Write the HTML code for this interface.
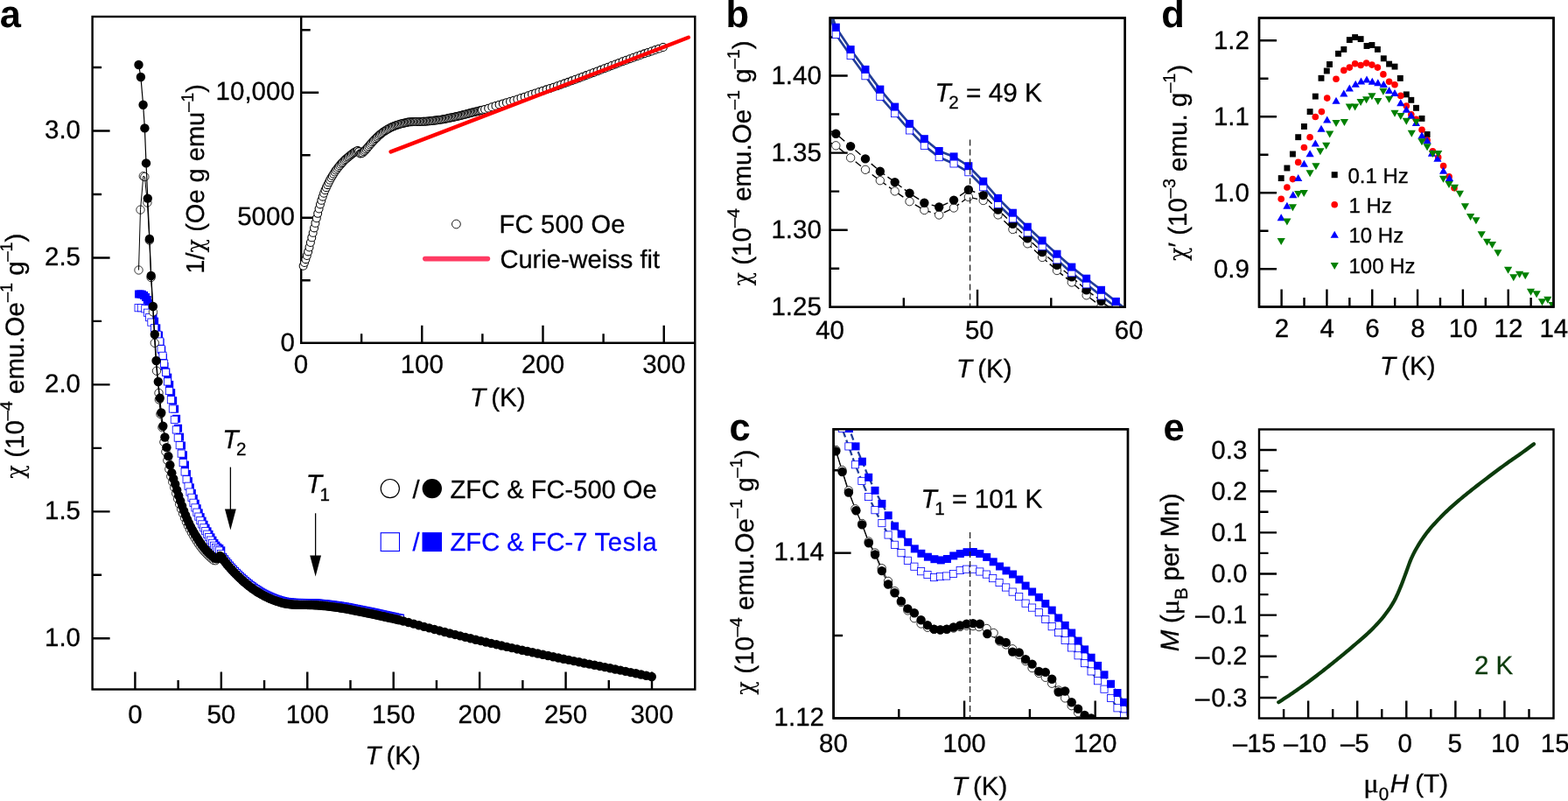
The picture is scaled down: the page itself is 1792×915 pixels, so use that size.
<!DOCTYPE html>
<html lang="en"><head><meta charset="utf-8"><title>Magnetic susceptibility figure</title>
<style>
html,body{margin:0;padding:0;background:#fff;}
body{width:1792px;height:915px;overflow:hidden;}
svg{display:block;font-family:'Liberation Sans', sans-serif;}
text{font-family:"Liberation Sans",sans-serif;stroke:#000;stroke-width:0.3px;text-rendering:geometricPrecision;}
text.pl{stroke:none;}
</style></head><body>
<svg width="1792" height="915" viewBox="0 0 1792 915">
<defs><clipPath id="clipb"><rect x="948.7" y="20.5" width="337.0" height="330.3"/></clipPath><clipPath id="clipc"><rect x="952.6" y="490.3" width="336.4" height="330.09999999999997"/></clipPath><clipPath id="clipd"><rect x="1439.0" y="20.5" width="336.5" height="330.0"/></clipPath></defs>
<rect width="1792" height="915" fill="#fff"/>
<text class="pl" x="-0.3" y="31.2" font-size="43.5" font-weight="bold">a</text><text class="pl" x="829.5" y="31.2" font-size="43.5" font-weight="bold">b</text><text class="pl" x="833.5" y="503.2" font-size="43.5" font-weight="bold">c</text><text class="pl" x="1327.2" y="31.2" font-size="43.5" font-weight="bold">d</text><text class="pl" x="1329.5" y="503.2" font-size="43.5" font-weight="bold">e</text><g id="panel-a"><rect x="105.6" y="19" width="688.7" height="768.5" fill="none" stroke="#000" stroke-width="2.4"/><path d="M154.4 787.5V767.5M252.83 787.5V767.5M351.27 787.5V767.5M449.71 787.5V767.5M548.14 787.5V767.5M646.57 787.5V767.5M745.01 787.5V767.5" stroke="#000" stroke-width="2.4" fill="none"/><path d="M203.62 787.5V777M302.05 787.5V777M400.49 787.5V777M498.92 787.5V777M597.36 787.5V777M695.79 787.5V777" stroke="#000" stroke-width="2.4" fill="none"/><path d="M105.6 729.3H125.6M105.6 584.35H125.6M105.6 439.4H125.6M105.6 294.45H125.6M105.6 149.5H125.6" stroke="#000" stroke-width="2.4" fill="none"/><path d="M105.6 656.82H116.1M105.6 511.88H116.1M105.6 366.92H116.1M105.6 221.98H116.1M105.6 77.02H116.1" stroke="#000" stroke-width="2.4" fill="none"/><g fill="#0000ff"><rect x="154" y="331.5" width="9" height="9"/><rect x="156" y="331.5" width="9" height="9"/><rect x="158" y="331.8" width="9" height="9"/><rect x="160" y="333" width="9" height="9"/><rect x="162" y="335" width="9" height="9"/><rect x="163.8" y="338" width="9" height="9"/><rect x="165.5" y="342" width="9" height="9"/><rect x="167.3" y="346.5" width="9" height="9"/><rect x="169" y="352" width="9" height="9"/><rect x="170.5" y="357.5" width="9" height="9"/><rect x="172.1" y="362.6" width="9" height="9"/><rect x="174.3" y="370.3" width="9" height="9"/><rect x="177" y="378.5" width="9" height="9"/><rect x="178.6" y="386.7" width="9" height="9"/><rect x="180.3" y="395.4" width="9" height="9"/><rect x="181.9" y="404.2" width="9" height="9"/><rect x="183.5" y="414" width="9" height="9"/><rect x="185.3" y="420.49" width="9" height="9"/><rect x="187.27" y="426.64" width="9" height="9"/><rect x="189.24" y="434.91" width="9" height="9"/><rect x="191.21" y="444.13" width="9" height="9"/><rect x="193.17" y="453.18" width="9" height="9"/><rect x="195.14" y="462.66" width="9" height="9"/><rect x="197.11" y="473.8" width="9" height="9"/><rect x="199.08" y="484.71" width="9" height="9"/><rect x="201.05" y="494.63" width="9" height="9"/><rect x="203.02" y="504.5" width="9" height="9"/><rect x="204.99" y="515.23" width="9" height="9"/><rect x="206.96" y="526.59" width="9" height="9"/><rect x="208.92" y="536.92" width="9" height="9"/><rect x="210.89" y="545.16" width="9" height="9"/><rect x="212.86" y="552.34" width="9" height="9"/><rect x="214.83" y="558.82" width="9" height="9"/><rect x="216.8" y="564.89" width="9" height="9"/><rect x="218.77" y="570.72" width="9" height="9"/><rect x="220.74" y="576.22" width="9" height="9"/><rect x="222.71" y="581.37" width="9" height="9"/><rect x="224.67" y="586.15" width="9" height="9"/><rect x="226.64" y="590.57" width="9" height="9"/><rect x="228.61" y="594.72" width="9" height="9"/><rect x="230.58" y="598.62" width="9" height="9"/><rect x="232.55" y="602.32" width="9" height="9"/><rect x="234.52" y="605.84" width="9" height="9"/><rect x="236.49" y="609.33" width="9" height="9"/><rect x="238.45" y="612.72" width="9" height="9"/><rect x="240.42" y="615.87" width="9" height="9"/><rect x="242.39" y="618.6" width="9" height="9"/><rect x="244.36" y="620.68" width="9" height="9"/><rect x="246.33" y="622" width="9" height="9"/><rect x="248.3" y="624.32" width="9" height="9"/><rect x="250.27" y="631.85" width="9" height="9"/><rect x="252.24" y="634.37" width="9" height="9"/><rect x="254.2" y="636.89" width="9" height="9"/><rect x="256.17" y="639.28" width="9" height="9"/><rect x="258.14" y="641.55" width="9" height="9"/><rect x="260.11" y="643.73" width="9" height="9"/><rect x="262.08" y="645.84" width="9" height="9"/><rect x="264.05" y="647.88" width="9" height="9"/><rect x="266.02" y="649.86" width="9" height="9"/><rect x="267.99" y="651.78" width="9" height="9"/><rect x="269.95" y="653.66" width="9" height="9"/><rect x="271.92" y="655.5" width="9" height="9"/><rect x="273.89" y="657.29" width="9" height="9"/><rect x="275.86" y="659.01" width="9" height="9"/><rect x="277.83" y="660.66" width="9" height="9"/><rect x="279.8" y="662.23" width="9" height="9"/><rect x="281.77" y="663.74" width="9" height="9"/><rect x="283.74" y="665.2" width="9" height="9"/><rect x="285.7" y="666.61" width="9" height="9"/><rect x="287.67" y="667.95" width="9" height="9"/><rect x="289.64" y="669.21" width="9" height="9"/><rect x="291.61" y="670.42" width="9" height="9"/><rect x="293.58" y="671.58" width="9" height="9"/><rect x="295.55" y="672.68" width="9" height="9"/><rect x="297.52" y="673.74" width="9" height="9"/><rect x="299.48" y="674.73" width="9" height="9"/><rect x="301.45" y="675.67" width="9" height="9"/><rect x="303.42" y="676.57" width="9" height="9"/><rect x="305.39" y="677.43" width="9" height="9"/><rect x="307.36" y="678.25" width="9" height="9"/><rect x="309.33" y="679.01" width="9" height="9"/><rect x="311.3" y="679.71" width="9" height="9"/><rect x="313.27" y="680.34" width="9" height="9"/><rect x="315.23" y="680.94" width="9" height="9"/><rect x="317.2" y="681.51" width="9" height="9"/><rect x="319.17" y="682.04" width="9" height="9"/><rect x="321.14" y="682.48" width="9" height="9"/><rect x="323.11" y="682.83" width="9" height="9"/><rect x="325.08" y="683.09" width="9" height="9"/><rect x="327.05" y="683.33" width="9" height="9"/><rect x="329.02" y="683.54" width="9" height="9"/><rect x="330.98" y="683.72" width="9" height="9"/><rect x="332.95" y="683.84" width="9" height="9"/><rect x="334.92" y="683.9" width="9" height="9"/><rect x="336.89" y="683.93" width="9" height="9"/><rect x="338.86" y="683.94" width="9" height="9"/><rect x="340.83" y="683.96" width="9" height="9"/><rect x="342.8" y="683.97" width="9" height="9"/><rect x="344.76" y="683.99" width="9" height="9"/><rect x="346.73" y="684.01" width="9" height="9"/><rect x="348.7" y="684.06" width="9" height="9"/><rect x="350.67" y="684.12" width="9" height="9"/><rect x="352.64" y="684.19" width="9" height="9"/><rect x="354.61" y="684.28" width="9" height="9"/><rect x="356.58" y="684.37" width="9" height="9"/><rect x="358.55" y="684.48" width="9" height="9"/><rect x="360.51" y="684.63" width="9" height="9"/><rect x="362.48" y="684.8" width="9" height="9"/><rect x="364.45" y="685" width="9" height="9"/><rect x="366.42" y="685.2" width="9" height="9"/><rect x="368.39" y="685.41" width="9" height="9"/><rect x="370.36" y="685.63" width="9" height="9"/><rect x="372.33" y="685.86" width="9" height="9"/><rect x="374.3" y="686.11" width="9" height="9"/><rect x="376.26" y="686.37" width="9" height="9"/><rect x="378.23" y="686.64" width="9" height="9"/><rect x="380.2" y="686.91" width="9" height="9"/><rect x="382.17" y="687.19" width="9" height="9"/><rect x="384.14" y="687.47" width="9" height="9"/><rect x="386.11" y="687.77" width="9" height="9"/><rect x="388.08" y="688.08" width="9" height="9"/><rect x="390.04" y="688.41" width="9" height="9"/><rect x="392.01" y="688.75" width="9" height="9"/><rect x="393.98" y="689.12" width="9" height="9"/><rect x="395.95" y="689.51" width="9" height="9"/><rect x="397.92" y="689.91" width="9" height="9"/><rect x="399.89" y="690.32" width="9" height="9"/><rect x="401.86" y="690.71" width="9" height="9"/><rect x="403.83" y="691.1" width="9" height="9"/><rect x="405.79" y="691.49" width="9" height="9"/><rect x="407.76" y="691.88" width="9" height="9"/><rect x="409.73" y="692.27" width="9" height="9"/><rect x="411.7" y="692.66" width="9" height="9"/><rect x="413.67" y="693.05" width="9" height="9"/><rect x="415.64" y="693.45" width="9" height="9"/><rect x="417.61" y="693.85" width="9" height="9"/><rect x="419.58" y="694.25" width="9" height="9"/><rect x="421.54" y="694.66" width="9" height="9"/><rect x="423.51" y="695.07" width="9" height="9"/><rect x="425.48" y="695.5" width="9" height="9"/><rect x="427.45" y="695.94" width="9" height="9"/><rect x="429.42" y="696.39" width="9" height="9"/><rect x="431.39" y="696.84" width="9" height="9"/><rect x="433.36" y="697.29" width="9" height="9"/><rect x="435.32" y="697.73" width="9" height="9"/><rect x="437.29" y="698.15" width="9" height="9"/><rect x="439.26" y="698.56" width="9" height="9"/><rect x="441.23" y="698.97" width="9" height="9"/><rect x="443.2" y="699.39" width="9" height="9"/><rect x="445.17" y="699.82" width="9" height="9"/><rect x="447.14" y="700.28" width="9" height="9"/><rect x="449.11" y="700.76" width="9" height="9"/><rect x="451.07" y="701.25" width="9" height="9"/><rect x="453.04" y="701.51" width="9" height="9"/></g><g fill="#fff" stroke="#0000ff" stroke-width="0.8"><rect x="154" y="347.6" width="8.2" height="8.2"/><rect x="157.3" y="347.6" width="8.2" height="8.2"/><rect x="161.7" y="348.7" width="8.2" height="8.2"/><rect x="164.4" y="353.1" width="8.2" height="8.2"/><rect x="166.6" y="358.5" width="8.2" height="8.2"/><rect x="168.8" y="364" width="8.2" height="8.2"/><rect x="172.6" y="370.5" width="8.2" height="8.2"/><rect x="175.9" y="378.2" width="8.2" height="8.2"/><rect x="178.6" y="385.9" width="8.2" height="8.2"/><rect x="180" y="394.6" width="8.2" height="8.2"/><rect x="181.9" y="402.2" width="8.2" height="8.2"/><rect x="183.5" y="411" width="8.2" height="8.2"/><rect x="185.4" y="421.22" width="8.2" height="8.2"/><rect x="187.37" y="431.83" width="8.2" height="8.2"/><rect x="189.34" y="442.43" width="8.2" height="8.2"/><rect x="191.31" y="452.65" width="8.2" height="8.2"/><rect x="193.27" y="462.93" width="8.2" height="8.2"/><rect x="195.24" y="475.24" width="8.2" height="8.2"/><rect x="197.21" y="486.83" width="8.2" height="8.2"/><rect x="199.18" y="495.99" width="8.2" height="8.2"/><rect x="201.15" y="504.57" width="8.2" height="8.2"/><rect x="203.12" y="514" width="8.2" height="8.2"/><rect x="205.09" y="524.55" width="8.2" height="8.2"/><rect x="207.06" y="534.88" width="8.2" height="8.2"/><rect x="209.02" y="543.64" width="8.2" height="8.2"/><rect x="210.99" y="551.15" width="8.2" height="8.2"/><rect x="212.96" y="557.95" width="8.2" height="8.2"/><rect x="214.93" y="564.24" width="8.2" height="8.2"/><rect x="216.9" y="570.18" width="8.2" height="8.2"/><rect x="218.87" y="575.8" width="8.2" height="8.2"/><rect x="220.84" y="581.08" width="8.2" height="8.2"/><rect x="222.81" y="586" width="8.2" height="8.2"/><rect x="224.77" y="590.54" width="8.2" height="8.2"/><rect x="226.74" y="594.79" width="8.2" height="8.2"/><rect x="228.71" y="598.77" width="8.2" height="8.2"/><rect x="230.68" y="602.53" width="8.2" height="8.2"/><rect x="232.65" y="606.11" width="8.2" height="8.2"/><rect x="234.62" y="609.57" width="8.2" height="8.2"/><rect x="236.59" y="612.99" width="8.2" height="8.2"/><rect x="238.55" y="616.23" width="8.2" height="8.2"/><rect x="240.52" y="619.14" width="8.2" height="8.2"/><rect x="242.49" y="621.59" width="8.2" height="8.2"/><rect x="244.46" y="623.26" width="8.2" height="8.2"/><rect x="246.43" y="624.89" width="8.2" height="8.2"/><rect x="248.4" y="628.59" width="8.2" height="8.2"/><rect x="250.37" y="632.35" width="8.2" height="8.2"/><rect x="252.34" y="635.1" width="8.2" height="8.2"/><rect x="254.3" y="637.61" width="8.2" height="8.2"/><rect x="256.27" y="640.02" width="8.2" height="8.2"/><rect x="258.24" y="642.31" width="8.2" height="8.2"/><rect x="260.21" y="644.5" width="8.2" height="8.2"/><rect x="262.18" y="646.62" width="8.2" height="8.2"/><rect x="264.15" y="648.67" width="8.2" height="8.2"/><rect x="266.12" y="650.66" width="8.2" height="8.2"/><rect x="268.09" y="652.59" width="8.2" height="8.2"/><rect x="270.05" y="654.48" width="8.2" height="8.2"/><rect x="272.02" y="656.32" width="8.2" height="8.2"/><rect x="273.99" y="658.12" width="8.2" height="8.2"/><rect x="275.96" y="659.85" width="8.2" height="8.2"/><rect x="277.93" y="661.51" width="8.2" height="8.2"/><rect x="279.9" y="663.09" width="8.2" height="8.2"/><rect x="281.87" y="664.62" width="8.2" height="8.2"/><rect x="283.84" y="666.09" width="8.2" height="8.2"/><rect x="285.8" y="667.5" width="8.2" height="8.2"/><rect x="287.77" y="668.85" width="8.2" height="8.2"/><rect x="289.74" y="670.13" width="8.2" height="8.2"/><rect x="291.71" y="671.34" width="8.2" height="8.2"/><rect x="293.68" y="672.5" width="8.2" height="8.2"/><rect x="295.65" y="673.62" width="8.2" height="8.2"/><rect x="297.62" y="674.68" width="8.2" height="8.2"/><rect x="299.58" y="675.69" width="8.2" height="8.2"/><rect x="301.55" y="676.63" width="8.2" height="8.2"/><rect x="303.52" y="677.53" width="8.2" height="8.2"/><rect x="305.49" y="678.4" width="8.2" height="8.2"/><rect x="307.46" y="679.23" width="8.2" height="8.2"/><rect x="309.43" y="680" width="8.2" height="8.2"/><rect x="311.4" y="680.71" width="8.2" height="8.2"/><rect x="313.37" y="681.35" width="8.2" height="8.2"/><rect x="315.33" y="681.95" width="8.2" height="8.2"/><rect x="317.3" y="682.53" width="8.2" height="8.2"/><rect x="319.27" y="683.06" width="8.2" height="8.2"/><rect x="321.24" y="683.52" width="8.2" height="8.2"/><rect x="323.21" y="683.89" width="8.2" height="8.2"/><rect x="325.18" y="684.15" width="8.2" height="8.2"/><rect x="327.15" y="684.4" width="8.2" height="8.2"/><rect x="329.12" y="684.61" width="8.2" height="8.2"/><rect x="331.08" y="684.79" width="8.2" height="8.2"/><rect x="333.05" y="684.93" width="8.2" height="8.2"/><rect x="335.02" y="685" width="8.2" height="8.2"/><rect x="336.99" y="685.02" width="8.2" height="8.2"/><rect x="338.96" y="685.04" width="8.2" height="8.2"/><rect x="340.93" y="685.05" width="8.2" height="8.2"/><rect x="342.9" y="685.07" width="8.2" height="8.2"/><rect x="344.86" y="685.08" width="8.2" height="8.2"/><rect x="346.83" y="685.11" width="8.2" height="8.2"/><rect x="348.8" y="685.15" width="8.2" height="8.2"/><rect x="350.77" y="685.21" width="8.2" height="8.2"/><rect x="352.74" y="685.28" width="8.2" height="8.2"/><rect x="354.71" y="685.37" width="8.2" height="8.2"/><rect x="356.68" y="685.46" width="8.2" height="8.2"/><rect x="358.65" y="685.57" width="8.2" height="8.2"/><rect x="360.61" y="685.71" width="8.2" height="8.2"/><rect x="362.58" y="685.88" width="8.2" height="8.2"/><rect x="364.55" y="686.07" width="8.2" height="8.2"/><rect x="366.52" y="686.27" width="8.2" height="8.2"/><rect x="368.49" y="686.48" width="8.2" height="8.2"/><rect x="370.46" y="686.69" width="8.2" height="8.2"/><rect x="372.43" y="686.92" width="8.2" height="8.2"/><rect x="374.4" y="687.17" width="8.2" height="8.2"/><rect x="376.36" y="687.43" width="8.2" height="8.2"/><rect x="378.33" y="687.7" width="8.2" height="8.2"/><rect x="380.3" y="687.97" width="8.2" height="8.2"/><rect x="382.27" y="688.25" width="8.2" height="8.2"/><rect x="384.24" y="688.53" width="8.2" height="8.2"/><rect x="386.21" y="688.83" width="8.2" height="8.2"/><rect x="388.18" y="689.13" width="8.2" height="8.2"/><rect x="390.14" y="689.45" width="8.2" height="8.2"/><rect x="392.11" y="689.8" width="8.2" height="8.2"/><rect x="394.08" y="690.16" width="8.2" height="8.2"/><rect x="396.05" y="690.55" width="8.2" height="8.2"/><rect x="398.02" y="690.95" width="8.2" height="8.2"/><rect x="399.99" y="691.36" width="8.2" height="8.2"/><rect x="401.96" y="691.75" width="8.2" height="8.2"/><rect x="403.93" y="692.14" width="8.2" height="8.2"/><rect x="405.89" y="692.53" width="8.2" height="8.2"/><rect x="407.86" y="692.92" width="8.2" height="8.2"/><rect x="409.83" y="693.31" width="8.2" height="8.2"/><rect x="411.8" y="693.7" width="8.2" height="8.2"/><rect x="413.77" y="694.09" width="8.2" height="8.2"/><rect x="415.74" y="694.49" width="8.2" height="8.2"/><rect x="417.71" y="694.89" width="8.2" height="8.2"/><rect x="419.68" y="695.29" width="8.2" height="8.2"/><rect x="421.64" y="695.7" width="8.2" height="8.2"/><rect x="423.61" y="696.11" width="8.2" height="8.2"/><rect x="425.58" y="696.54" width="8.2" height="8.2"/><rect x="427.55" y="696.97" width="8.2" height="8.2"/><rect x="429.52" y="697.42" width="8.2" height="8.2"/><rect x="431.49" y="697.87" width="8.2" height="8.2"/><rect x="433.46" y="698.32" width="8.2" height="8.2"/><rect x="435.42" y="698.76" width="8.2" height="8.2"/><rect x="437.39" y="699.19" width="8.2" height="8.2"/><rect x="439.36" y="699.6" width="8.2" height="8.2"/><rect x="441.33" y="700.01" width="8.2" height="8.2"/><rect x="443.3" y="700.42" width="8.2" height="8.2"/><rect x="445.27" y="700.86" width="8.2" height="8.2"/><rect x="447.24" y="701.31" width="8.2" height="8.2"/><rect x="449.21" y="701.79" width="8.2" height="8.2"/><rect x="451.17" y="702.27" width="8.2" height="8.2"/><rect x="453.14" y="702.76" width="8.2" height="8.2"/></g><g fill="#fff" stroke="#000" stroke-width="0.8"><circle cx="158.5" cy="308.5" r="4.7"/><circle cx="160.5" cy="239.6" r="4.7"/><circle cx="163.8" cy="201.2" r="4.7"/><circle cx="165.4" cy="202" r="4.7"/><circle cx="168.4" cy="231.5" r="4.7"/><circle cx="170.8" cy="274.5" r="4.7"/><circle cx="172.6" cy="317" r="4.7"/><circle cx="174.9" cy="356.4" r="4.7"/><circle cx="176.8" cy="391.8" r="4.7"/><circle cx="179" cy="423.7" r="4.7"/><circle cx="181.5" cy="448.9" r="4.7"/><circle cx="181.8" cy="456.5" r="4.7"/><circle cx="183.4" cy="473" r="4.7"/><circle cx="185.4" cy="488.3" r="4.7"/><circle cx="187.4" cy="504.96" r="4.7"/><circle cx="189.37" cy="516.11" r="4.7"/><circle cx="191.34" cy="525.9" r="4.7"/><circle cx="193.31" cy="535.84" r="4.7"/><circle cx="195.27" cy="544.24" r="4.7"/><circle cx="197.24" cy="550.53" r="4.7"/><circle cx="199.21" cy="556.8" r="4.7"/><circle cx="201.18" cy="563.52" r="4.7"/><circle cx="203.15" cy="569.9" r="4.7"/><circle cx="205.12" cy="575.89" r="4.7"/><circle cx="207.09" cy="581.55" r="4.7"/><circle cx="209.06" cy="586.81" r="4.7"/><circle cx="211.02" cy="591.81" r="4.7"/><circle cx="212.99" cy="596.49" r="4.7"/><circle cx="214.96" cy="600.75" r="4.7"/><circle cx="216.93" cy="604.65" r="4.7"/><circle cx="218.9" cy="608.29" r="4.7"/><circle cx="220.87" cy="611.7" r="4.7"/><circle cx="222.84" cy="614.94" r="4.7"/><circle cx="224.81" cy="618.07" r="4.7"/><circle cx="226.77" cy="621.07" r="4.7"/><circle cx="228.74" cy="623.9" r="4.7"/><circle cx="230.71" cy="626.51" r="4.7"/><circle cx="232.68" cy="628.87" r="4.7"/><circle cx="234.65" cy="631.08" r="4.7"/><circle cx="236.62" cy="633.13" r="4.7"/><circle cx="238.59" cy="635.03" r="4.7"/><circle cx="240.55" cy="636.76" r="4.7"/><circle cx="242.52" cy="638.61" r="4.7"/><circle cx="244.49" cy="640.09" r="4.7"/><circle cx="246.46" cy="640.22" r="4.7"/></g><polyline points="158.5,308.5 160.5,239.6 163.8,201.2 165.4,202 168.4,231.5 170.8,274.5 172.6,317 174.9,356.4 176.8,391.8 179,423.7 181.5,448.9 181.8,456.5 183.4,473 185.4,488.3" fill="none" stroke="#000" stroke-width="1.0" /><polyline points="158.5,74 160.9,88 163.6,119.8 165.4,146.4 167,186.4 168.8,226.6 170.9,273 172.7,315 174.9,350 176.8,382 178.6,412 180.8,436 182.7,454.8 184.3,471.5 186.3,486.8 188.4,499.5" fill="none" stroke="#000" stroke-width="1.2" /><g fill="#000"><circle cx="158.5" cy="74" r="5.2"/><circle cx="160.9" cy="88" r="5.2"/><circle cx="163.6" cy="119.8" r="5.2"/><circle cx="165.4" cy="146.4" r="5.2"/><circle cx="167" cy="186.4" r="5.2"/><circle cx="168.8" cy="226.6" r="5.2"/><circle cx="170.9" cy="273" r="5.2"/><circle cx="172.7" cy="315" r="5.2"/><circle cx="174.9" cy="350" r="5.2"/><circle cx="176.8" cy="382" r="5.2"/><circle cx="178.6" cy="412" r="5.2"/><circle cx="180.8" cy="436" r="5.2"/><circle cx="182.7" cy="454.8" r="5.2"/><circle cx="184.3" cy="471.5" r="5.2"/><circle cx="186.3" cy="486.8" r="5.2"/><circle cx="188.4" cy="499.5" r="5.2"/><circle cx="190.4" cy="511.17" r="5.2"/><circle cx="192.37" cy="521.15" r="5.2"/><circle cx="194.34" cy="531.23" r="5.2"/><circle cx="196.31" cy="540.16" r="5.2"/><circle cx="198.27" cy="546.92" r="5.2"/><circle cx="200.24" cy="553" r="5.2"/><circle cx="202.21" cy="559.68" r="5.2"/><circle cx="204.18" cy="566.23" r="5.2"/><circle cx="206.15" cy="572.29" r="5.2"/><circle cx="208.12" cy="578.05" r="5.2"/><circle cx="210.09" cy="583.42" r="5.2"/><circle cx="212.06" cy="588.5" r="5.2"/><circle cx="214.02" cy="593.28" r="5.2"/><circle cx="215.99" cy="597.67" r="5.2"/><circle cx="217.96" cy="601.65" r="5.2"/><circle cx="219.93" cy="605.36" r="5.2"/><circle cx="221.9" cy="608.84" r="5.2"/><circle cx="223.87" cy="612.12" r="5.2"/><circle cx="225.84" cy="615.28" r="5.2"/><circle cx="227.81" cy="618.32" r="5.2"/><circle cx="229.77" cy="621.2" r="5.2"/><circle cx="231.74" cy="623.88" r="5.2"/><circle cx="233.71" cy="626.31" r="5.2"/><circle cx="235.68" cy="628.56" r="5.2"/><circle cx="237.65" cy="630.65" r="5.2"/><circle cx="239.62" cy="632.6" r="5.2"/><circle cx="241.59" cy="634.38" r="5.2"/><circle cx="243.55" cy="636.16" r="5.2"/><circle cx="245.52" cy="637.87" r="5.2"/><circle cx="247.49" cy="638.38" r="5.2"/><circle cx="249.46" cy="638.01" r="5.2"/><circle cx="251.43" cy="634.92" r="5.2"/><circle cx="253.4" cy="636.38" r="5.2"/><circle cx="255.37" cy="639.47" r="5.2"/><circle cx="257.34" cy="642.05" r="5.2"/><circle cx="259.3" cy="644.53" r="5.2"/><circle cx="261.27" cy="646.88" r="5.2"/><circle cx="263.24" cy="649.12" r="5.2"/><circle cx="265.21" cy="651.28" r="5.2"/><circle cx="267.18" cy="653.37" r="5.2"/><circle cx="269.15" cy="655.39" r="5.2"/><circle cx="271.12" cy="657.35" r="5.2"/><circle cx="273.09" cy="659.26" r="5.2"/><circle cx="275.05" cy="661.13" r="5.2"/><circle cx="277.02" cy="662.95" r="5.2"/><circle cx="278.99" cy="664.72" r="5.2"/><circle cx="280.96" cy="666.42" r="5.2"/><circle cx="282.93" cy="668.04" r="5.2"/><circle cx="284.9" cy="669.59" r="5.2"/><circle cx="286.87" cy="671.09" r="5.2"/><circle cx="288.84" cy="672.54" r="5.2"/><circle cx="290.8" cy="673.92" r="5.2"/><circle cx="292.77" cy="675.24" r="5.2"/><circle cx="294.74" cy="676.49" r="5.2"/><circle cx="296.71" cy="677.68" r="5.2"/><circle cx="298.68" cy="678.82" r="5.2"/><circle cx="300.65" cy="679.91" r="5.2"/><circle cx="302.62" cy="680.95" r="5.2"/><circle cx="304.58" cy="681.93" r="5.2"/><circle cx="306.55" cy="682.85" r="5.2"/><circle cx="308.52" cy="683.73" r="5.2"/><circle cx="310.49" cy="684.59" r="5.2"/><circle cx="312.46" cy="685.39" r="5.2"/><circle cx="314.43" cy="686.13" r="5.2"/><circle cx="316.4" cy="686.81" r="5.2"/><circle cx="318.37" cy="687.42" r="5.2"/><circle cx="320.33" cy="688.02" r="5.2"/><circle cx="322.3" cy="688.58" r="5.2"/><circle cx="324.27" cy="689.08" r="5.2"/><circle cx="326.24" cy="689.5" r="5.2"/><circle cx="328.21" cy="689.81" r="5.2"/><circle cx="330.18" cy="690.07" r="5.2"/><circle cx="332.15" cy="690.3" r="5.2"/><circle cx="334.12" cy="690.5" r="5.2"/><circle cx="336.08" cy="690.66" r="5.2"/><circle cx="338.05" cy="690.77" r="5.2"/><circle cx="340.02" cy="690.81" r="5.2"/><circle cx="341.99" cy="690.83" r="5.2"/><circle cx="343.96" cy="690.85" r="5.2"/><circle cx="345.93" cy="690.86" r="5.2"/><circle cx="347.9" cy="690.87" r="5.2"/><circle cx="349.86" cy="690.89" r="5.2"/><circle cx="351.83" cy="690.93" r="5.2"/><circle cx="353.8" cy="690.98" r="5.2"/><circle cx="355.77" cy="691.04" r="5.2"/><circle cx="357.74" cy="691.12" r="5.2"/><circle cx="359.71" cy="691.21" r="5.2"/><circle cx="361.68" cy="691.3" r="5.2"/><circle cx="363.65" cy="691.43" r="5.2"/><circle cx="365.61" cy="691.58" r="5.2"/><circle cx="367.58" cy="691.76" r="5.2"/><circle cx="369.55" cy="691.96" r="5.2"/><circle cx="371.52" cy="692.17" r="5.2"/><circle cx="373.49" cy="692.37" r="5.2"/><circle cx="375.46" cy="692.6" r="5.2"/><circle cx="377.43" cy="692.84" r="5.2"/><circle cx="379.4" cy="693.09" r="5.2"/><circle cx="381.36" cy="693.35" r="5.2"/><circle cx="383.33" cy="693.62" r="5.2"/><circle cx="385.3" cy="693.89" r="5.2"/><circle cx="387.27" cy="694.17" r="5.2"/><circle cx="389.24" cy="694.46" r="5.2"/><circle cx="391.21" cy="694.76" r="5.2"/><circle cx="393.18" cy="695.08" r="5.2"/><circle cx="395.14" cy="695.41" r="5.2"/><circle cx="397.11" cy="695.76" r="5.2"/><circle cx="399.08" cy="696.14" r="5.2"/><circle cx="401.05" cy="696.53" r="5.2"/><circle cx="403.02" cy="696.94" r="5.2"/><circle cx="404.99" cy="697.34" r="5.2"/><circle cx="406.96" cy="697.73" r="5.2"/><circle cx="408.93" cy="698.12" r="5.2"/><circle cx="410.89" cy="698.51" r="5.2"/><circle cx="412.86" cy="698.89" r="5.2"/><circle cx="414.83" cy="699.29" r="5.2"/><circle cx="416.8" cy="699.68" r="5.2"/><circle cx="418.77" cy="700.08" r="5.2"/><circle cx="420.74" cy="700.47" r="5.2"/><circle cx="422.71" cy="700.87" r="5.2"/><circle cx="424.68" cy="701.28" r="5.2"/><circle cx="426.64" cy="701.68" r="5.2"/><circle cx="428.61" cy="702.1" r="5.2"/><circle cx="430.58" cy="702.53" r="5.2"/><circle cx="432.55" cy="702.98" r="5.2"/><circle cx="434.52" cy="703.43" r="5.2"/><circle cx="436.49" cy="703.88" r="5.2"/><circle cx="438.46" cy="704.32" r="5.2"/><circle cx="440.42" cy="704.76" r="5.2"/><circle cx="442.39" cy="705.18" r="5.2"/><circle cx="444.36" cy="705.59" r="5.2"/><circle cx="446.33" cy="706" r="5.2"/><circle cx="448.3" cy="706.42" r="5.2"/><circle cx="450.27" cy="706.86" r="5.2"/><circle cx="452.24" cy="707.33" r="5.2"/><circle cx="454.21" cy="707.81" r="5.2"/><circle cx="456.17" cy="708.3" r="5.2"/><circle cx="461" cy="709.53" r="5.2"/><circle cx="466.91" cy="711.07" r="5.2"/><circle cx="472.81" cy="712.64" r="5.2"/><circle cx="478.72" cy="714.24" r="5.2"/><circle cx="484.62" cy="715.83" r="5.2"/><circle cx="490.53" cy="717.4" r="5.2"/><circle cx="496.44" cy="718.93" r="5.2"/><circle cx="502.34" cy="720.44" r="5.2"/><circle cx="508.25" cy="721.95" r="5.2"/><circle cx="514.15" cy="723.45" r="5.2"/><circle cx="520.06" cy="724.94" r="5.2"/><circle cx="525.97" cy="726.41" r="5.2"/><circle cx="531.87" cy="727.86" r="5.2"/><circle cx="537.78" cy="729.3" r="5.2"/><circle cx="543.68" cy="730.72" r="5.2"/><circle cx="549.59" cy="732.11" r="5.2"/><circle cx="555.5" cy="733.49" r="5.2"/><circle cx="561.4" cy="734.85" r="5.2"/><circle cx="567.31" cy="736.19" r="5.2"/><circle cx="573.21" cy="737.52" r="5.2"/><circle cx="579.12" cy="738.84" r="5.2"/><circle cx="585.03" cy="740.14" r="5.2"/><circle cx="590.93" cy="741.44" r="5.2"/><circle cx="596.84" cy="742.73" r="5.2"/><circle cx="602.74" cy="744.01" r="5.2"/><circle cx="608.65" cy="745.28" r="5.2"/><circle cx="614.56" cy="746.54" r="5.2"/><circle cx="620.46" cy="747.79" r="5.2"/><circle cx="626.37" cy="749.03" r="5.2"/><circle cx="632.27" cy="750.26" r="5.2"/><circle cx="638.18" cy="751.48" r="5.2"/><circle cx="644.09" cy="752.7" r="5.2"/><circle cx="649.99" cy="753.91" r="5.2"/><circle cx="655.9" cy="755.1" r="5.2"/><circle cx="661.8" cy="756.28" r="5.2"/><circle cx="667.71" cy="757.45" r="5.2"/><circle cx="673.62" cy="758.61" r="5.2"/><circle cx="679.52" cy="759.77" r="5.2"/><circle cx="685.43" cy="760.94" r="5.2"/><circle cx="691.33" cy="762.11" r="5.2"/><circle cx="697.24" cy="763.29" r="5.2"/><circle cx="703.15" cy="764.48" r="5.2"/><circle cx="709.05" cy="765.67" r="5.2"/><circle cx="714.96" cy="766.87" r="5.2"/><circle cx="720.86" cy="768.08" r="5.2"/><circle cx="726.77" cy="769.29" r="5.2"/><circle cx="732.68" cy="770.5" r="5.2"/><circle cx="738.58" cy="771.71" r="5.2"/><circle cx="744.8" cy="773" r="5.2"/></g><text font-size="29.5" text-anchor="end" transform="translate(92 738.2) scale(1 1.0)" >1.0</text><text font-size="29.5" text-anchor="end" transform="translate(92 593.25) scale(1 1.0)" >1.5</text><text font-size="29.5" text-anchor="end" transform="translate(92 448.3) scale(1 1.0)" >2.0</text><text font-size="29.5" text-anchor="end" transform="translate(92 303.35) scale(1 1.0)" >2.5</text><text font-size="29.5" text-anchor="end" transform="translate(92 158.4) scale(1 1.0)" >3.0</text><text font-size="29.5" text-anchor="middle" transform="translate(154.4 825.6) scale(1 1.0)" >0</text><text font-size="29.5" text-anchor="middle" transform="translate(252.83 825.6) scale(1 1.0)" >50</text><text font-size="29.5" text-anchor="middle" transform="translate(351.27 825.6) scale(1 1.0)" >100</text><text font-size="29.5" text-anchor="middle" transform="translate(449.71 825.6) scale(1 1.0)" >150</text><text font-size="29.5" text-anchor="middle" transform="translate(548.14 825.6) scale(1 1.0)" >200</text><text font-size="29.5" text-anchor="middle" transform="translate(646.57 825.6) scale(1 1.0)" >250</text><text font-size="29.5" text-anchor="middle" transform="translate(745.01 825.6) scale(1 1.0)" >300</text><text font-size="29.5" text-anchor="middle" transform="translate(449 873.4) scale(1 1.0)" ><tspan font-style="italic">T</tspan><tspan dx="-2"> (K)</tspan></text><text font-size="29.5" text-anchor="middle" transform="translate(27 406.6) rotate(-90) scale(1 1.0)" ><tspan font-family="DejaVu Serif, Liberation Serif, serif" font-size="28.5" stroke-width="0" textLength="15.6" lengthAdjust="spacingAndGlyphs">χ</tspan> (10<tspan font-size="19.8" dy="-12.8">–4</tspan><tspan dy="12.8" font-size="1">&#8203;</tspan> emu.Oe<tspan font-size="19.8" dy="-12.8">–1</tspan><tspan dy="12.8" font-size="1">&#8203;</tspan> g<tspan font-size="19.8" dy="-12.8">–1</tspan><tspan dy="12.8" font-size="1">&#8203;</tspan>)</text><text font-size="29.8" text-anchor="start" transform="translate(254.3 511.8) scale(1 1.0)" ><tspan font-style="italic">T</tspan><tspan font-size="20.6" dy="8.5" dx="-2.5">2</tspan><tspan dy="-8.5" font-size="1">&#8203;</tspan></text><line x1="263.4" y1="533.6" x2="263.4" y2="582.6" stroke="#000" stroke-width="1.3" /><path d="M257 581.6H269.8L263.4 605.6Z" fill="#000"/><text font-size="29.8" text-anchor="start" transform="translate(349.8 563) scale(1 1.0)" ><tspan font-style="italic">T</tspan><tspan font-size="20.6" dy="8.5" dx="-2.5">1</tspan><tspan dy="-8.5" font-size="1">&#8203;</tspan></text><line x1="360.6" y1="586.3" x2="360.6" y2="635.5" stroke="#000" stroke-width="1.3" /><path d="M354.2 634.5H367L360.6 658.5Z" fill="#000"/><circle cx="445.8" cy="558.1" r="10.6" fill="#fff" stroke="#000" stroke-width="1.2"/><text font-size="29.1" text-anchor="start" transform="translate(471.6 568.5) scale(1 1.0)" >/</text><circle cx="493.8" cy="558.1" r="11.2" fill="#000"/><text font-size="29.1" text-anchor="start" transform="translate(514.6 568.5) scale(1 1.0)" >ZFC &amp; FC-500 Oe</text><rect x="435.2" y="608.7" width="21.3" height="20.8" fill="#fff" stroke="#0000ff" stroke-width="1.1"/><text font-size="29.1" text-anchor="start" fill="#0000ff" style="stroke:#0000ff" transform="translate(471.6 628.7) scale(1 1.0)" >/</text><rect x="482.5" y="608.1" width="22.5" height="22" fill="#0000ff"/><text font-size="29.1" text-anchor="start" fill="#0000ff" style="stroke:#0000ff" transform="translate(514.6 628.7) scale(1 1.0)" >ZFC &amp; FC-7 <tspan letter-spacing="0.8">Tesla</tspan></text></g><g id="inset"><line x1="344.2" y1="19" x2="344.2" y2="393" stroke="#000" stroke-width="2.4" /><line x1="343" y1="391.8" x2="794.3" y2="391.8" stroke="#000" stroke-width="2.4" /><path d="M482.25 391.8V371.8M620.5 391.8V371.8M758.75 391.8V371.8" stroke="#000" stroke-width="2.4" fill="none"/><path d="M413.12 391.8V381.3M551.38 391.8V381.3M689.62 391.8V381.3" stroke="#000" stroke-width="2.4" fill="none"/><path d="M344.2 248.7H364.2M344.2 105.7H364.2" stroke="#000" stroke-width="2.4" fill="none"/><path d="M344.2 320.2H354.7M344.2 177.2H354.7M344.2 34.2H354.7" stroke="#000" stroke-width="2.4" fill="none"/><g fill="#fff" stroke="#000" stroke-width="1.05"><circle cx="346.6" cy="303.7" r="4.45"/><circle cx="347.98" cy="300.1" r="4.45"/><circle cx="349.37" cy="296.19" r="4.45"/><circle cx="350.75" cy="291.98" r="4.45"/><circle cx="352.13" cy="287.41" r="4.45"/><circle cx="353.51" cy="282.48" r="4.45"/><circle cx="354.89" cy="277.01" r="4.45"/><circle cx="356.28" cy="271.39" r="4.45"/><circle cx="357.66" cy="265.9" r="4.45"/><circle cx="359.04" cy="260.42" r="4.45"/><circle cx="360.42" cy="254.89" r="4.45"/><circle cx="361.81" cy="249.31" r="4.45"/><circle cx="363.19" cy="243.86" r="4.45"/><circle cx="364.57" cy="238.49" r="4.45"/><circle cx="365.95" cy="233.43" r="4.45"/><circle cx="367.34" cy="228.89" r="4.45"/><circle cx="368.72" cy="224.66" r="4.45"/><circle cx="370.1" cy="220.79" r="4.45"/><circle cx="371.48" cy="217.32" r="4.45"/><circle cx="372.87" cy="214.13" r="4.45"/><circle cx="374.25" cy="211.17" r="4.45"/><circle cx="375.63" cy="208.4" r="4.45"/><circle cx="377.01" cy="205.78" r="4.45"/><circle cx="378.4" cy="203.28" r="4.45"/><circle cx="379.78" cy="200.91" r="4.45"/><circle cx="381.16" cy="198.67" r="4.45"/><circle cx="382.54" cy="196.58" r="4.45"/><circle cx="383.93" cy="194.6" r="4.45"/><circle cx="385.31" cy="192.72" r="4.45"/><circle cx="386.69" cy="190.93" r="4.45"/><circle cx="388.07" cy="189.23" r="4.45"/><circle cx="389.46" cy="187.63" r="4.45"/><circle cx="390.84" cy="186.12" r="4.45"/><circle cx="392.22" cy="184.7" r="4.45"/><circle cx="393.6" cy="183.34" r="4.45"/><circle cx="394.99" cy="182.04" r="4.45"/><circle cx="396.37" cy="180.81" r="4.45"/><circle cx="397.75" cy="179.62" r="4.45"/><circle cx="399.13" cy="178.49" r="4.45"/><circle cx="400.52" cy="177.39" r="4.45"/><circle cx="401.9" cy="176.31" r="4.45"/><circle cx="403.28" cy="175.28" r="4.45"/><circle cx="404.66" cy="174.33" r="4.45"/><circle cx="406.05" cy="173.47" r="4.45"/><circle cx="407.43" cy="172.66" r="4.45"/><circle cx="408.81" cy="171.93" r="4.45"/><circle cx="410.19" cy="173.06" r="4.45"/><circle cx="411.58" cy="175.59" r="4.45"/><circle cx="412.96" cy="175.35" r="4.45"/><circle cx="414.34" cy="174.72" r="4.45"/><circle cx="415.72" cy="173.32" r="4.45"/><circle cx="417.11" cy="171.89" r="4.45"/><circle cx="418.49" cy="170.42" r="4.45"/><circle cx="419.87" cy="168.86" r="4.45"/><circle cx="421.25" cy="167.24" r="4.45"/><circle cx="422.64" cy="165.6" r="4.45"/><circle cx="424.02" cy="163.98" r="4.45"/><circle cx="425.4" cy="162.41" r="4.45"/><circle cx="426.78" cy="160.92" r="4.45"/><circle cx="428.17" cy="159.54" r="4.45"/><circle cx="429.55" cy="158.19" r="4.45"/><circle cx="430.93" cy="156.86" r="4.45"/><circle cx="432.31" cy="155.56" r="4.45"/><circle cx="433.7" cy="154.31" r="4.45"/><circle cx="435.08" cy="153.12" r="4.45"/><circle cx="436.46" cy="152.01" r="4.45"/><circle cx="437.84" cy="150.98" r="4.45"/><circle cx="439.23" cy="150.05" r="4.45"/><circle cx="440.61" cy="149.15" r="4.45"/><circle cx="441.99" cy="148.3" r="4.45"/><circle cx="443.37" cy="147.48" r="4.45"/><circle cx="444.76" cy="146.71" r="4.45"/><circle cx="446.14" cy="145.99" r="4.45"/><circle cx="447.52" cy="145.32" r="4.45"/><circle cx="448.9" cy="144.69" r="4.45"/><circle cx="450.29" cy="144.13" r="4.45"/><circle cx="451.67" cy="143.6" r="4.45"/><circle cx="453.05" cy="143.09" r="4.45"/><circle cx="454.43" cy="142.62" r="4.45"/><circle cx="455.82" cy="142.18" r="4.45"/><circle cx="457.2" cy="141.77" r="4.45"/><circle cx="458.58" cy="141.39" r="4.45"/><circle cx="459.96" cy="141.04" r="4.45"/><circle cx="461.35" cy="140.72" r="4.45"/><circle cx="462.73" cy="140.41" r="4.45"/><circle cx="464.11" cy="140.11" r="4.45"/><circle cx="465.49" cy="139.82" r="4.45"/><circle cx="466.88" cy="139.58" r="4.45"/><circle cx="468.26" cy="139.37" r="4.45"/><circle cx="469.64" cy="139.24" r="4.45"/><circle cx="471.02" cy="139.16" r="4.45"/><circle cx="472.41" cy="139.11" r="4.45"/><circle cx="473.79" cy="139.06" r="4.45"/><circle cx="475.17" cy="139.03" r="4.45"/><circle cx="476.55" cy="139" r="4.45"/><circle cx="477.94" cy="138.97" r="4.45"/><circle cx="479.32" cy="138.95" r="4.45"/><circle cx="480.7" cy="138.91" r="4.45"/><circle cx="482.08" cy="138.88" r="4.45"/><circle cx="483.47" cy="138.83" r="4.45"/><circle cx="484.85" cy="138.77" r="4.45"/><circle cx="486.23" cy="138.69" r="4.45"/><circle cx="487.61" cy="138.6" r="4.45"/><circle cx="489" cy="138.48" r="4.45"/><circle cx="490.38" cy="138.36" r="4.45"/><circle cx="491.76" cy="138.22" r="4.45"/><circle cx="493.14" cy="138.07" r="4.45"/><circle cx="494.53" cy="137.92" r="4.45"/><circle cx="495.91" cy="137.75" r="4.45"/><circle cx="497.29" cy="137.58" r="4.45"/><circle cx="498.67" cy="137.41" r="4.45"/><circle cx="500.06" cy="137.23" r="4.45"/><circle cx="501.44" cy="137.05" r="4.45"/><circle cx="502.82" cy="136.85" r="4.45"/><circle cx="504.2" cy="136.63" r="4.45"/><circle cx="505.59" cy="136.4" r="4.45"/><circle cx="506.97" cy="136.16" r="4.45"/><circle cx="508.35" cy="135.9" r="4.45"/><circle cx="509.73" cy="135.64" r="4.45"/><circle cx="511.12" cy="135.36" r="4.45"/><circle cx="512.5" cy="135.08" r="4.45"/><circle cx="513.88" cy="134.79" r="4.45"/><circle cx="515.26" cy="134.5" r="4.45"/><circle cx="516.65" cy="134.21" r="4.45"/><circle cx="518.03" cy="133.91" r="4.45"/><circle cx="519.41" cy="133.61" r="4.45"/><circle cx="520.79" cy="133.31" r="4.45"/><circle cx="522.18" cy="133.01" r="4.45"/><circle cx="523.56" cy="132.69" r="4.45"/><circle cx="524.94" cy="132.37" r="4.45"/><circle cx="526.32" cy="132.03" r="4.45"/><circle cx="527.71" cy="131.69" r="4.45"/><circle cx="529.09" cy="131.34" r="4.45"/><circle cx="530.47" cy="130.99" r="4.45"/><circle cx="531.85" cy="130.63" r="4.45"/><circle cx="533.24" cy="130.27" r="4.45"/><circle cx="534.62" cy="129.92" r="4.45"/><circle cx="536" cy="129.56" r="4.45"/><circle cx="537.39" cy="129.2" r="4.45"/><circle cx="538.77" cy="128.84" r="4.45"/><circle cx="540.15" cy="128.49" r="4.45"/><circle cx="541.53" cy="128.14" r="4.45"/><circle cx="542.92" cy="127.8" r="4.45"/><circle cx="544.3" cy="127.45" r="4.45"/><circle cx="545.68" cy="127.11" r="4.45"/><circle cx="547.06" cy="126.77" r="4.45"/><circle cx="548.45" cy="126.42" r="4.45"/><circle cx="549.83" cy="126.06" r="4.45"/><circle cx="551.21" cy="125.69" r="4.45"/><circle cx="554" cy="124.91" r="4.45"/><circle cx="558.15" cy="123.64" r="4.45"/><circle cx="562.3" cy="122.29" r="4.45"/><circle cx="566.44" cy="120.93" r="4.45"/><circle cx="570.59" cy="119.6" r="4.45"/><circle cx="574.74" cy="118.35" r="4.45"/><circle cx="578.89" cy="117.14" r="4.45"/><circle cx="583.03" cy="115.93" r="4.45"/><circle cx="587.18" cy="114.69" r="4.45"/><circle cx="591.33" cy="113.4" r="4.45"/><circle cx="595.48" cy="112.03" r="4.45"/><circle cx="599.62" cy="110.61" r="4.45"/><circle cx="603.77" cy="109.17" r="4.45"/><circle cx="607.92" cy="107.74" r="4.45"/><circle cx="612.07" cy="106.35" r="4.45"/><circle cx="616.21" cy="104.99" r="4.45"/><circle cx="620.36" cy="103.64" r="4.45"/><circle cx="624.51" cy="102.31" r="4.45"/><circle cx="628.66" cy="100.96" r="4.45"/><circle cx="632.8" cy="99.6" r="4.45"/><circle cx="636.95" cy="98.22" r="4.45"/><circle cx="641.1" cy="96.79" r="4.45"/><circle cx="645.25" cy="95.32" r="4.45"/><circle cx="649.39" cy="93.83" r="4.45"/><circle cx="653.54" cy="92.31" r="4.45"/><circle cx="657.69" cy="90.76" r="4.45"/><circle cx="661.84" cy="89.21" r="4.45"/><circle cx="665.98" cy="87.64" r="4.45"/><circle cx="670.13" cy="86.08" r="4.45"/><circle cx="674.28" cy="84.51" r="4.45"/><circle cx="678.43" cy="82.94" r="4.45"/><circle cx="682.57" cy="81.38" r="4.45"/><circle cx="686.72" cy="79.81" r="4.45"/><circle cx="690.87" cy="78.22" r="4.45"/><circle cx="695.02" cy="76.63" r="4.45"/><circle cx="699.16" cy="75.03" r="4.45"/><circle cx="703.31" cy="73.44" r="4.45"/><circle cx="707.46" cy="71.85" r="4.45"/><circle cx="711.61" cy="70.29" r="4.45"/><circle cx="715.75" cy="68.74" r="4.45"/><circle cx="719.9" cy="67.22" r="4.45"/><circle cx="724.05" cy="65.72" r="4.45"/><circle cx="728.2" cy="64.24" r="4.45"/><circle cx="732.34" cy="62.77" r="4.45"/><circle cx="736.49" cy="61.32" r="4.45"/><circle cx="740.64" cy="59.87" r="4.45"/><circle cx="744.79" cy="58.45" r="4.45"/><circle cx="748.93" cy="57.04" r="4.45"/><circle cx="753.08" cy="55.64" r="4.45"/><circle cx="757.9" cy="54" r="4.45"/></g><line x1="446.6" y1="173.4" x2="786.8" y2="42.8" stroke="#ff0000" stroke-width="4.4" stroke-linecap="round"/><text font-size="29.5" text-anchor="end" transform="translate(336.8 400.6) scale(1 1.0)" >0</text><text font-size="29.5" text-anchor="end" transform="translate(336.8 257.1) scale(1 1.0)" >5000</text><text font-size="29.5" text-anchor="end" transform="translate(336.8 114.1) scale(1 1.0)" >10,000</text><text font-size="29.5" text-anchor="middle" transform="translate(344 425.7) scale(1 1.0)" >0</text><text font-size="29.5" text-anchor="middle" transform="translate(482.25 425.7) scale(1 1.0)" >100</text><text font-size="29.5" text-anchor="middle" transform="translate(620.5 425.7) scale(1 1.0)" >200</text><text font-size="29.5" text-anchor="middle" transform="translate(758.75 425.7) scale(1 1.0)" >300</text><text font-size="29.5" text-anchor="middle" transform="translate(568.8 463.6) scale(1 1.0)" ><tspan font-style="italic">T</tspan><tspan dx="-2"> (K)</tspan></text><text font-size="29.0" text-anchor="middle" transform="translate(233.3 204.4) rotate(-90) scale(1 1.0)" >1/<tspan font-family="DejaVu Serif, Liberation Serif, serif" font-size="28.5" stroke-width="0" textLength="15.6" lengthAdjust="spacingAndGlyphs">χ</tspan> (Oe g emu<tspan font-size="19.8" dy="-12.8">–1</tspan><tspan dy="12.8" font-size="1">&#8203;</tspan>)</text><circle cx="521.4" cy="256" r="4.9" fill="#fff" stroke="#000" stroke-width="0.9"/><text font-size="29.1" text-anchor="start" transform="translate(570.6 266) scale(1 1.0)" letter-spacing="0.2">FC 500 Oe</text><line x1="485.8" y1="295.6" x2="557.4" y2="295.6" stroke="#ff3b63" stroke-width="5.6" stroke-linecap="round"/><text font-size="29.1" text-anchor="start" transform="translate(571.4 306.2) scale(1 1.0)" >Curie-weiss fit</text></g><g id="panel-b"><rect x="948.7" y="20.5" width="337" height="330.3" fill="none" stroke="#000" stroke-width="2.4"/><path d="M1117.05 350.8V330.8" stroke="#000" stroke-width="2.4" fill="none"/><path d="M1032.83 350.8V340.3M1201.28 350.8V340.3" stroke="#000" stroke-width="2.4" fill="none"/><path d="M948.7 262.7H968.7M948.7 174.6H968.7M948.7 86.5H968.7" stroke="#000" stroke-width="2.4" fill="none"/><path d="M948.7 306.75H959.2M948.7 218.65H959.2M948.7 130.55H959.2M948.7 42.45H959.2" stroke="#000" stroke-width="2.4" fill="none"/><g clip-path="url(#clipb)"><polyline points="948.6,17.43 955.3,39.5 972.14,63.5 988.99,86.7 1005.83,110.3 1022.68,129.6 1039.52,148.9 1056.37,166.4 1073.21,179.6 1090.06,186.9 1106.9,196.7 1123.75,213.7 1140.6,233.4 1157.44,249.8 1174.28,265.8 1191.13,281.5 1207.97,296.8 1224.82,311.7 1241.66,324.8 1258.51,337.9 1275.36,351 1292.15,364" fill="none" stroke="#223d99" stroke-width="2.7" /><polyline points="947.6,7.43 955.3,31.2 972.14,56.6 988.99,79.4 1005.83,102.1 1022.68,122.1 1039.52,141.4 1056.37,158.7 1073.21,172.5 1090.06,178.9 1106.9,189.7 1123.75,207.2 1140.6,226.4 1157.44,243.2 1174.28,259.2 1191.13,274.9 1207.97,290.2 1224.82,305.1 1241.66,318.2 1258.51,331.3 1275.36,344.4 1292.15,357.4" fill="none" stroke="#223d99" stroke-width="2.7" /><polyline points="938.6,157.3 955.3,166.3 972.14,180.3 988.99,193.8 1005.83,206.2 1022.68,218.4 1039.52,230.2 1056.37,240 1073.21,245.5 1090.06,237.5 1106.9,225 1123.75,229 1140.6,245.4 1157.44,262 1174.28,278.3 1191.13,294 1207.97,309 1224.82,322.5 1241.66,337.3 1258.51,350 1275.36,363" fill="none" stroke="#000" stroke-width="1.4" stroke-dasharray="8 4"/><polyline points="938.6,143.8 955.3,152.8 972.14,167.1 988.99,181.4 1005.83,195.7 1022.68,208.1 1039.52,220.7 1056.37,231.7 1073.21,236.5 1090.06,228.6 1106.9,216.7 1123.75,223.1 1140.6,239.5 1157.44,255.9 1174.28,272.3 1191.13,288 1207.97,302.9 1224.82,316.4 1241.66,331.3 1258.51,343.8 1275.36,357" fill="none" stroke="#000" stroke-width="1.4" stroke-dasharray="8 4"/><g fill="#fff" stroke="#000" stroke-width="0.8"><circle cx="955.3" cy="166.3" r="4.7"/><circle cx="972.14" cy="180.3" r="4.7"/><circle cx="988.99" cy="193.8" r="4.7"/><circle cx="1005.83" cy="206.2" r="4.7"/><circle cx="1022.68" cy="218.4" r="4.7"/><circle cx="1039.52" cy="230.2" r="4.7"/><circle cx="1056.37" cy="240" r="4.7"/><circle cx="1073.21" cy="245.5" r="4.7"/><circle cx="1090.06" cy="237.5" r="4.7"/><circle cx="1106.9" cy="225" r="4.7"/><circle cx="1123.75" cy="229" r="4.7"/><circle cx="1140.6" cy="245.4" r="4.7"/><circle cx="1157.44" cy="262" r="4.7"/><circle cx="1174.28" cy="278.3" r="4.7"/><circle cx="1191.13" cy="294" r="4.7"/><circle cx="1207.97" cy="309" r="4.7"/><circle cx="1224.82" cy="322.5" r="4.7"/><circle cx="1241.66" cy="337.3" r="4.7"/><circle cx="1258.51" cy="350" r="4.7"/><circle cx="1275.36" cy="363" r="4.7"/></g><g fill="#000"><circle cx="955.3" cy="152.8" r="5.2"/><circle cx="972.14" cy="167.1" r="5.2"/><circle cx="988.99" cy="181.4" r="5.2"/><circle cx="1005.83" cy="195.7" r="5.2"/><circle cx="1022.68" cy="208.1" r="5.2"/><circle cx="1039.52" cy="220.7" r="5.2"/><circle cx="1056.37" cy="231.7" r="5.2"/><circle cx="1073.21" cy="236.5" r="5.2"/><circle cx="1090.06" cy="228.6" r="5.2"/><circle cx="1106.9" cy="216.7" r="5.2"/><circle cx="1123.75" cy="223.1" r="5.2"/><circle cx="1140.6" cy="239.5" r="5.2"/><circle cx="1157.44" cy="255.9" r="5.2"/><circle cx="1174.28" cy="272.3" r="5.2"/><circle cx="1191.13" cy="288" r="5.2"/><circle cx="1207.97" cy="302.9" r="5.2"/><circle cx="1224.82" cy="316.4" r="5.2"/><circle cx="1241.66" cy="331.3" r="5.2"/><circle cx="1258.51" cy="343.8" r="5.2"/><circle cx="1275.36" cy="357" r="5.2"/></g><g fill="#fff" stroke="#0000ff" stroke-width="0.8"><rect x="951.2" y="35.4" width="8.2" height="8.2"/><rect x="968.04" y="59.4" width="8.2" height="8.2"/><rect x="984.89" y="82.6" width="8.2" height="8.2"/><rect x="1001.73" y="106.2" width="8.2" height="8.2"/><rect x="1018.58" y="125.5" width="8.2" height="8.2"/><rect x="1035.42" y="144.8" width="8.2" height="8.2"/><rect x="1052.27" y="162.3" width="8.2" height="8.2"/><rect x="1069.12" y="175.5" width="8.2" height="8.2"/><rect x="1085.96" y="182.8" width="8.2" height="8.2"/><rect x="1102.81" y="192.6" width="8.2" height="8.2"/><rect x="1119.65" y="209.6" width="8.2" height="8.2"/><rect x="1136.5" y="229.3" width="8.2" height="8.2"/><rect x="1153.34" y="245.7" width="8.2" height="8.2"/><rect x="1170.18" y="261.7" width="8.2" height="8.2"/><rect x="1187.03" y="277.4" width="8.2" height="8.2"/><rect x="1203.88" y="292.7" width="8.2" height="8.2"/><rect x="1220.72" y="307.6" width="8.2" height="8.2"/><rect x="1237.57" y="320.7" width="8.2" height="8.2"/><rect x="1254.41" y="333.8" width="8.2" height="8.2"/><rect x="1271.26" y="346.9" width="8.2" height="8.2"/></g><g fill="#0000ff"><rect x="950.8" y="26.7" width="9" height="9"/><rect x="967.64" y="52.1" width="9" height="9"/><rect x="984.49" y="74.9" width="9" height="9"/><rect x="1001.33" y="97.6" width="9" height="9"/><rect x="1018.18" y="117.6" width="9" height="9"/><rect x="1035.02" y="136.9" width="9" height="9"/><rect x="1051.87" y="154.2" width="9" height="9"/><rect x="1068.71" y="168" width="9" height="9"/><rect x="1085.56" y="174.4" width="9" height="9"/><rect x="1102.4" y="185.2" width="9" height="9"/><rect x="1119.25" y="202.7" width="9" height="9"/><rect x="1136.1" y="221.9" width="9" height="9"/><rect x="1152.94" y="238.7" width="9" height="9"/><rect x="1169.78" y="254.7" width="9" height="9"/><rect x="1186.63" y="270.4" width="9" height="9"/><rect x="1203.47" y="285.7" width="9" height="9"/><rect x="1220.32" y="300.6" width="9" height="9"/><rect x="1237.16" y="313.7" width="9" height="9"/><rect x="1254.01" y="326.8" width="9" height="9"/><rect x="1270.86" y="339.9" width="9" height="9"/></g></g><line x1="1108.6" y1="159.5" x2="1108.6" y2="350.8" stroke="#222" stroke-width="1.3" stroke-dasharray="7 4"/><rect x="948.7" y="20.5" width="337" height="330.3" fill="none" stroke="#000" stroke-width="2.4"/><text font-size="29.5" text-anchor="end" transform="translate(938.8 360.1) scale(1 1.0)" >1.25</text><text font-size="29.5" text-anchor="end" transform="translate(938.8 272) scale(1 1.0)" >1.30</text><text font-size="29.5" text-anchor="end" transform="translate(938.8 183.9) scale(1 1.0)" >1.35</text><text font-size="29.5" text-anchor="end" transform="translate(938.8 95.8) scale(1 1.0)" >1.40</text><text font-size="29.5" text-anchor="middle" transform="translate(948.6 387) scale(1 1.0)" >40</text><text font-size="29.5" text-anchor="middle" transform="translate(1119.35 387) scale(1 1.0)" >50</text><text font-size="29.5" text-anchor="middle" transform="translate(1290.1 387) scale(1 1.0)" >60</text><text font-size="29.5" text-anchor="middle" transform="translate(1124.8 431.4) scale(1 1.0)" ><tspan font-style="italic">T</tspan><tspan dx="-2"> (K)</tspan></text><text font-size="29.5" text-anchor="middle" transform="translate(858 186.5) rotate(-90) scale(1 1.0)" ><tspan font-family="DejaVu Serif, Liberation Serif, serif" font-size="28.5" stroke-width="0" textLength="15.6" lengthAdjust="spacingAndGlyphs">χ</tspan> (10<tspan font-size="19.8" dy="-12.8">–4</tspan><tspan dy="12.8" font-size="1">&#8203;</tspan> emu.Oe<tspan font-size="19.8" dy="-12.8">–1</tspan><tspan dy="12.8" font-size="1">&#8203;</tspan> g<tspan font-size="19.8" dy="-12.8">–1</tspan><tspan dy="12.8" font-size="1">&#8203;</tspan>)</text><text font-size="29.8" text-anchor="start" transform="translate(1068.5 115.7) scale(1 1.0)" ><tspan font-style="italic">T</tspan><tspan font-size="20.6" dy="8.2" dx="-2.5">2</tspan><tspan dy="-8.2" font-size="1">&#8203;</tspan> = 49 K</text></g><g id="panel-c"><rect x="952.6" y="490.3" width="336.4" height="330.1" fill="none" stroke="#000" stroke-width="2.4"/><path d="M1102.1 820.4V800.4M1251.7 820.4V800.4" stroke="#000" stroke-width="2.4" fill="none"/><path d="M1027.3 820.4V809.9M1176.9 820.4V809.9" stroke="#000" stroke-width="2.4" fill="none"/><path d="M952.6 631.66H972.6" stroke="#000" stroke-width="2.4" fill="none"/><path d="M952.6 726.03H963.1M952.6 537.29H963.1" stroke="#000" stroke-width="2.4" fill="none"/><g clip-path="url(#clipc)"><polyline points="955,472 962.4,489.4 969.9,509.9 977.4,530.8 984.9,549.4 992.7,567.5 1000,582.7 1007.9,597.6 1015.1,611 1022.5,622.3 1030,631.7 1037.4,640.3 1044.9,647.2 1052.6,652.7 1060,656.5 1067.5,659.6 1074.6,658.6 1081.7,658 1089.5,655.5 1097.2,651.5 1104.7,650.2 1112,650.2 1119.8,653 1127.4,656.1 1134.7,660.6 1142.1,665.5 1149.7,671 1157.2,676.1 1164.7,681.6 1172.1,689.2 1179.6,694.1 1187.3,699.6 1194.8,707.5 1202.2,715.7 1209.7,722.6 1217.2,731.5 1224.7,739.9 1232.1,748.8 1239.6,757.6 1247.1,766.9 1254.6,777.7 1262,787.2 1269.5,797.4 1277,808.8 1284.5,818 1292,828" fill="none" stroke="#223d99" stroke-width="2.3" stroke-dasharray="7.5 3.5"/><polyline points="955.6,455 963.1,473 970.5,489.6 978,509.9 985.4,527.2 992.7,545.3 1000,560.3 1007.9,575.4 1015.2,588.8 1022.6,601 1030.2,610 1037.7,619.3 1045.3,626.9 1052.9,632.3 1060.4,636.2 1067.9,638.7 1075.3,639.9 1082.5,638.5 1089.8,634.9 1097.3,632.5 1105,630.7 1112.3,630.5 1119.8,632.5 1127.7,636.4 1135.2,641.8 1142.5,647 1150,651.9 1157.5,656 1164.9,662 1172.1,669.1 1179.6,676 1187.3,682.3 1194.8,689.6 1202.2,697.1 1209.7,705.9 1217.2,714.4 1224.7,723 1232.1,732.1 1239.6,741.9 1247.1,751.2 1254.6,760.4 1262,770.8 1269.5,781.3 1277,791.5 1284.5,802.3 1292,813" fill="none" stroke="#223d99" stroke-width="2.3" stroke-dasharray="7.5 3.5"/><polyline points="948,492 955.3,514 962.4,537 969.9,560.3 977.4,581.3 985.2,598 992.7,618.5 1000,631.5 1007.7,649.2 1015,663.9 1022.5,675.2 1029.9,688 1037.4,697.4 1044.9,706.2 1052.6,712.5 1060,716.7 1067.5,719 1074.6,719.6 1082,719 1089.7,717.5 1097.2,716 1104.7,714.7 1112,715.1 1118.9,716.1 1127.7,718 1135.6,723 1142.4,732.5 1149.7,736.4 1157.2,741.3 1164.7,747.8 1172.1,755.1 1179.6,763 1187.3,768.9 1194.8,773.8 1202.2,780.7 1209.7,788.5 1217.2,797.4 1224.7,806.2 1232.1,814.1 1239.6,820 1247.1,827" fill="none" stroke="#000" stroke-width="1.0" /><polyline points="948,493 955.3,515.4 962.6,539 969.9,562.6 978.4,583.3 985.2,599.4 992.8,620.2 1000.1,633.5 1007.8,652.1 1015,667.5 1022.5,677.3 1029.9,686.6 1037.4,695.4 1044.9,700.3 1052.6,708.2 1060,714.1 1067.5,718.6 1074.6,719.4 1082,718.6 1089.7,716.5 1097.2,714.5 1104.7,712.7 1112,712.1 1119.8,712.7 1128.3,724 1142.4,731.4 1149.7,733.9 1157.2,744.6 1164.7,745.4 1172.1,753.1 1179.6,758.6 1187.3,766.9 1194.8,767.9 1202.2,775.7 1209.7,790.5 1217.2,789.5 1224.7,802.3 1232.1,809.8 1239.6,817 1247.1,820.5 1254.6,829" fill="none" stroke="#000" stroke-width="1.0" /><g fill="#fff" stroke="#000" stroke-width="0.8"><circle cx="955.3" cy="514" r="4.7"/><circle cx="962.4" cy="537" r="4.7"/><circle cx="969.9" cy="560.3" r="4.7"/><circle cx="977.4" cy="581.3" r="4.7"/><circle cx="985.2" cy="598" r="4.7"/><circle cx="992.7" cy="618.5" r="4.7"/><circle cx="1000" cy="631.5" r="4.7"/><circle cx="1007.7" cy="649.2" r="4.7"/><circle cx="1015" cy="663.9" r="4.7"/><circle cx="1022.5" cy="675.2" r="4.7"/><circle cx="1029.9" cy="688" r="4.7"/><circle cx="1037.4" cy="697.4" r="4.7"/><circle cx="1044.9" cy="706.2" r="4.7"/><circle cx="1052.6" cy="712.5" r="4.7"/><circle cx="1060" cy="716.7" r="4.7"/><circle cx="1067.5" cy="719" r="4.7"/><circle cx="1074.6" cy="719.6" r="4.7"/><circle cx="1082" cy="719" r="4.7"/><circle cx="1089.7" cy="717.5" r="4.7"/><circle cx="1097.2" cy="716" r="4.7"/><circle cx="1104.7" cy="714.7" r="4.7"/><circle cx="1112" cy="715.1" r="4.7"/><circle cx="1118.9" cy="716.1" r="4.7"/><circle cx="1127.7" cy="718" r="4.7"/><circle cx="1135.6" cy="723" r="4.7"/><circle cx="1142.4" cy="732.5" r="4.7"/><circle cx="1149.7" cy="736.4" r="4.7"/><circle cx="1157.2" cy="741.3" r="4.7"/><circle cx="1164.7" cy="747.8" r="4.7"/><circle cx="1172.1" cy="755.1" r="4.7"/><circle cx="1179.6" cy="763" r="4.7"/><circle cx="1187.3" cy="768.9" r="4.7"/><circle cx="1194.8" cy="773.8" r="4.7"/><circle cx="1202.2" cy="780.7" r="4.7"/><circle cx="1209.7" cy="788.5" r="4.7"/><circle cx="1217.2" cy="797.4" r="4.7"/><circle cx="1224.7" cy="806.2" r="4.7"/><circle cx="1232.1" cy="814.1" r="4.7"/><circle cx="1239.6" cy="820" r="4.7"/><circle cx="1247.1" cy="827" r="4.7"/></g><g fill="#000"><circle cx="955.3" cy="515.4" r="5.2"/><circle cx="962.6" cy="539" r="5.2"/><circle cx="969.9" cy="562.6" r="5.2"/><circle cx="978.4" cy="583.3" r="5.2"/><circle cx="985.2" cy="599.4" r="5.2"/><circle cx="992.8" cy="620.2" r="5.2"/><circle cx="1000.1" cy="633.5" r="5.2"/><circle cx="1007.8" cy="652.1" r="5.2"/><circle cx="1015" cy="667.5" r="5.2"/><circle cx="1022.5" cy="677.3" r="5.2"/><circle cx="1029.9" cy="686.6" r="5.2"/><circle cx="1037.4" cy="695.4" r="5.2"/><circle cx="1044.9" cy="700.3" r="5.2"/><circle cx="1052.6" cy="708.2" r="5.2"/><circle cx="1060" cy="714.1" r="5.2"/><circle cx="1067.5" cy="718.6" r="5.2"/><circle cx="1074.6" cy="719.4" r="5.2"/><circle cx="1082" cy="718.6" r="5.2"/><circle cx="1089.7" cy="716.5" r="5.2"/><circle cx="1097.2" cy="714.5" r="5.2"/><circle cx="1104.7" cy="712.7" r="5.2"/><circle cx="1112" cy="712.1" r="5.2"/><circle cx="1119.8" cy="712.7" r="5.2"/><circle cx="1128.3" cy="724" r="5.2"/><circle cx="1142.4" cy="731.4" r="5.2"/><circle cx="1149.7" cy="733.9" r="5.2"/><circle cx="1157.2" cy="744.6" r="5.2"/><circle cx="1164.7" cy="745.4" r="5.2"/><circle cx="1172.1" cy="753.1" r="5.2"/><circle cx="1179.6" cy="758.6" r="5.2"/><circle cx="1187.3" cy="766.9" r="5.2"/><circle cx="1194.8" cy="767.9" r="5.2"/><circle cx="1202.2" cy="775.7" r="5.2"/><circle cx="1209.7" cy="790.5" r="5.2"/><circle cx="1217.2" cy="789.5" r="5.2"/><circle cx="1224.7" cy="802.3" r="5.2"/><circle cx="1232.1" cy="809.8" r="5.2"/><circle cx="1239.6" cy="817" r="5.2"/><circle cx="1247.1" cy="820.5" r="5.2"/><circle cx="1254.6" cy="829" r="5.2"/></g><g fill="#fff" stroke="#0000ff" stroke-width="0.8"><rect x="950.9" y="467.9" width="8.2" height="8.2"/><rect x="958.3" y="485.3" width="8.2" height="8.2"/><rect x="965.8" y="505.8" width="8.2" height="8.2"/><rect x="973.3" y="526.7" width="8.2" height="8.2"/><rect x="980.8" y="545.3" width="8.2" height="8.2"/><rect x="988.6" y="563.4" width="8.2" height="8.2"/><rect x="995.9" y="578.6" width="8.2" height="8.2"/><rect x="1003.8" y="593.5" width="8.2" height="8.2"/><rect x="1011" y="606.9" width="8.2" height="8.2"/><rect x="1018.4" y="618.2" width="8.2" height="8.2"/><rect x="1025.9" y="627.6" width="8.2" height="8.2"/><rect x="1033.3" y="636.2" width="8.2" height="8.2"/><rect x="1040.8" y="643.1" width="8.2" height="8.2"/><rect x="1048.5" y="648.6" width="8.2" height="8.2"/><rect x="1055.9" y="652.4" width="8.2" height="8.2"/><rect x="1063.4" y="655.5" width="8.2" height="8.2"/><rect x="1070.5" y="654.5" width="8.2" height="8.2"/><rect x="1077.6" y="653.9" width="8.2" height="8.2"/><rect x="1085.4" y="651.4" width="8.2" height="8.2"/><rect x="1093.1" y="647.4" width="8.2" height="8.2"/><rect x="1100.6" y="646.1" width="8.2" height="8.2"/><rect x="1107.9" y="646.1" width="8.2" height="8.2"/><rect x="1115.7" y="648.9" width="8.2" height="8.2"/><rect x="1123.3" y="652" width="8.2" height="8.2"/><rect x="1130.6" y="656.5" width="8.2" height="8.2"/><rect x="1138" y="661.4" width="8.2" height="8.2"/><rect x="1145.6" y="666.9" width="8.2" height="8.2"/><rect x="1153.1" y="672" width="8.2" height="8.2"/><rect x="1160.6" y="677.5" width="8.2" height="8.2"/><rect x="1168" y="685.1" width="8.2" height="8.2"/><rect x="1175.5" y="690" width="8.2" height="8.2"/><rect x="1183.2" y="695.5" width="8.2" height="8.2"/><rect x="1190.7" y="703.4" width="8.2" height="8.2"/><rect x="1198.1" y="711.6" width="8.2" height="8.2"/><rect x="1205.6" y="718.5" width="8.2" height="8.2"/><rect x="1213.1" y="727.4" width="8.2" height="8.2"/><rect x="1220.6" y="735.8" width="8.2" height="8.2"/><rect x="1228" y="744.7" width="8.2" height="8.2"/><rect x="1235.5" y="753.5" width="8.2" height="8.2"/><rect x="1243" y="762.8" width="8.2" height="8.2"/><rect x="1250.5" y="773.6" width="8.2" height="8.2"/><rect x="1257.9" y="783.1" width="8.2" height="8.2"/><rect x="1265.4" y="793.3" width="8.2" height="8.2"/><rect x="1272.9" y="804.7" width="8.2" height="8.2"/><rect x="1280.4" y="813.9" width="8.2" height="8.2"/><rect x="1287.9" y="823.9" width="8.2" height="8.2"/></g><g fill="#0000ff"><rect x="951.1" y="450.5" width="9" height="9"/><rect x="958.6" y="468.5" width="9" height="9"/><rect x="966" y="485.1" width="9" height="9"/><rect x="973.5" y="505.4" width="9" height="9"/><rect x="980.9" y="522.7" width="9" height="9"/><rect x="988.2" y="540.8" width="9" height="9"/><rect x="995.5" y="555.8" width="9" height="9"/><rect x="1003.4" y="570.9" width="9" height="9"/><rect x="1010.7" y="584.3" width="9" height="9"/><rect x="1018.1" y="596.5" width="9" height="9"/><rect x="1025.7" y="605.5" width="9" height="9"/><rect x="1033.2" y="614.8" width="9" height="9"/><rect x="1040.8" y="622.4" width="9" height="9"/><rect x="1048.4" y="627.8" width="9" height="9"/><rect x="1055.9" y="631.7" width="9" height="9"/><rect x="1063.4" y="634.2" width="9" height="9"/><rect x="1070.8" y="635.4" width="9" height="9"/><rect x="1078" y="634" width="9" height="9"/><rect x="1085.3" y="630.4" width="9" height="9"/><rect x="1092.8" y="628" width="9" height="9"/><rect x="1100.5" y="626.2" width="9" height="9"/><rect x="1107.8" y="626" width="9" height="9"/><rect x="1115.3" y="628" width="9" height="9"/><rect x="1123.2" y="631.9" width="9" height="9"/><rect x="1130.7" y="637.3" width="9" height="9"/><rect x="1138" y="642.5" width="9" height="9"/><rect x="1145.5" y="647.4" width="9" height="9"/><rect x="1153" y="651.5" width="9" height="9"/><rect x="1160.4" y="657.5" width="9" height="9"/><rect x="1167.6" y="664.6" width="9" height="9"/><rect x="1175.1" y="671.5" width="9" height="9"/><rect x="1182.8" y="677.8" width="9" height="9"/><rect x="1190.3" y="685.1" width="9" height="9"/><rect x="1197.7" y="692.6" width="9" height="9"/><rect x="1205.2" y="701.4" width="9" height="9"/><rect x="1212.7" y="709.9" width="9" height="9"/><rect x="1220.2" y="718.5" width="9" height="9"/><rect x="1227.6" y="727.6" width="9" height="9"/><rect x="1235.1" y="737.4" width="9" height="9"/><rect x="1242.6" y="746.7" width="9" height="9"/><rect x="1250.1" y="755.9" width="9" height="9"/><rect x="1257.5" y="766.3" width="9" height="9"/><rect x="1265" y="776.8" width="9" height="9"/><rect x="1272.5" y="787" width="9" height="9"/><rect x="1280" y="797.8" width="9" height="9"/><rect x="1287.5" y="808.5" width="9" height="9"/></g></g><line x1="1108.6" y1="607.9" x2="1108.6" y2="820.4" stroke="#222" stroke-width="1.3" stroke-dasharray="7 4"/><rect x="952.6" y="490.3" width="336.4" height="330.1" fill="none" stroke="#000" stroke-width="2.4"/><text font-size="29.5" text-anchor="end" transform="translate(942 829.1) scale(1 1.0)" >1.12</text><text font-size="29.5" text-anchor="end" transform="translate(942 640.36) scale(1 1.0)" >1.14</text><text font-size="29.5" text-anchor="middle" transform="translate(952.5 858.9) scale(1 1.0)" >80</text><text font-size="29.5" text-anchor="middle" transform="translate(1102.1 858.9) scale(1 1.0)" >100</text><text font-size="29.5" text-anchor="middle" transform="translate(1251.7 858.9) scale(1 1.0)" >120</text><text font-size="29.5" text-anchor="middle" transform="translate(1119.6 907.6) scale(1 1.0)" ><tspan font-style="italic">T</tspan><tspan dx="-2"> (K)</tspan></text><text font-size="29.5" text-anchor="middle" transform="translate(861 653.6) rotate(-90) scale(1 1.0)" ><tspan font-family="DejaVu Serif, Liberation Serif, serif" font-size="28.5" stroke-width="0" textLength="15.6" lengthAdjust="spacingAndGlyphs">χ</tspan> (10<tspan font-size="19.8" dy="-12.8">–4</tspan><tspan dy="12.8" font-size="1">&#8203;</tspan> emu.Oe<tspan font-size="19.8" dy="-12.8">–1</tspan><tspan dy="12.8" font-size="1">&#8203;</tspan> g<tspan font-size="19.8" dy="-12.8">–1</tspan><tspan dy="12.8" font-size="1">&#8203;</tspan>)</text><text font-size="29.8" text-anchor="start" transform="translate(1052.5 580.1) scale(1 1.0)" ><tspan font-style="italic">T</tspan><tspan font-size="20.6" dy="8.2" dx="-2.5">1</tspan><tspan dy="-8.2" font-size="1">&#8203;</tspan> = 101 K</text></g><g id="panel-d"><rect x="1439" y="20.5" width="336.5" height="330" fill="none" stroke="#000" stroke-width="2.4"/><path d="M1464.61 350.5V330.5M1516.43 350.5V330.5M1568.25 350.5V330.5M1620.07 350.5V330.5M1671.89 350.5V330.5M1723.71 350.5V330.5" stroke="#000" stroke-width="2.4" fill="none"/><path d="M1490.52 350.5V340M1542.34 350.5V340M1594.16 350.5V340M1645.98 350.5V340M1697.8 350.5V340M1749.62 350.5V340" stroke="#000" stroke-width="2.4" fill="none"/><path d="M1439 307.3H1459M1439 220.3H1459M1439 133.3H1459M1439 46.3H1459" stroke="#000" stroke-width="2.4" fill="none"/><path d="M1439 263.8H1449.5M1439 176.8H1449.5M1439 89.8H1449.5" stroke="#000" stroke-width="2.4" fill="none"/><g clip-path="url(#clipd)"><g fill="#000"><rect x="1460.75" y="200.15" width="6.9" height="6.9"/><rect x="1467.45" y="188.55" width="6.9" height="6.9"/><rect x="1473.95" y="172.55" width="6.9" height="6.9"/><rect x="1480.25" y="153.25" width="6.9" height="6.9"/><rect x="1486.95" y="141.05" width="6.9" height="6.9"/><rect x="1493.65" y="124.15" width="6.9" height="6.9"/><rect x="1499.85" y="106.65" width="6.9" height="6.9"/><rect x="1506.55" y="85.85" width="6.9" height="6.9"/><rect x="1512.85" y="77.55" width="6.9" height="6.9"/><rect x="1516.05" y="70.05" width="6.9" height="6.9"/><rect x="1526.05" y="57.85" width="6.9" height="6.9"/><rect x="1532.35" y="52.95" width="6.9" height="6.9"/><rect x="1538.85" y="42.15" width="6.9" height="6.9"/><rect x="1545.15" y="39.15" width="6.9" height="6.9"/><rect x="1551.65" y="41.15" width="6.9" height="6.9"/><rect x="1558.55" y="49.05" width="6.9" height="6.9"/><rect x="1564.45" y="48.05" width="6.9" height="6.9"/><rect x="1570.95" y="52.95" width="6.9" height="6.9"/><rect x="1577.85" y="63.35" width="6.9" height="6.9"/><rect x="1584.15" y="69.65" width="6.9" height="6.9"/><rect x="1590.55" y="72.65" width="6.9" height="6.9"/><rect x="1596.85" y="85.95" width="6.9" height="6.9"/><rect x="1603.85" y="104.45" width="6.9" height="6.9"/><rect x="1609.35" y="110.85" width="6.9" height="6.9"/><rect x="1615.05" y="119.85" width="6.9" height="6.9"/><rect x="1621.55" y="131.95" width="6.9" height="6.9"/><rect x="1627.65" y="150.05" width="6.9" height="6.9"/></g><g fill="#ff0000"><circle cx="1464.2" cy="227.2" r="3.8"/><circle cx="1470.9" cy="214" r="3.8"/><circle cx="1477.4" cy="204.6" r="3.8"/><circle cx="1483.7" cy="185.4" r="3.8"/><circle cx="1490.4" cy="168.5" r="3.8"/><circle cx="1497.1" cy="156.7" r="3.8"/><circle cx="1503.3" cy="133.5" r="3.8"/><circle cx="1510.4" cy="127.6" r="3.8"/><circle cx="1516.7" cy="112.1" r="3.8"/><circle cx="1527" cy="90.2" r="3.8"/><circle cx="1535.8" cy="80.4" r="3.8"/><circle cx="1542.3" cy="77.1" r="3.8"/><circle cx="1548.6" cy="72.7" r="3.8"/><circle cx="1555.1" cy="74.5" r="3.8"/><circle cx="1561.6" cy="72.1" r="3.8"/><circle cx="1567.9" cy="74.1" r="3.8"/><circle cx="1574.4" cy="77.1" r="3.8"/><circle cx="1580.9" cy="84.9" r="3.8"/><circle cx="1587.6" cy="93.2" r="3.8"/><circle cx="1594" cy="96.7" r="3.8"/><circle cx="1600.8" cy="109.4" r="3.8"/><circle cx="1607.3" cy="121" r="3.8"/><circle cx="1612.8" cy="130.8" r="3.8"/><circle cx="1618.4" cy="136.2" r="3.8"/><circle cx="1625" cy="148.2" r="3.8"/><circle cx="1631.1" cy="160" r="3.8"/><circle cx="1637.4" cy="172.8" r="3.8"/><circle cx="1643.7" cy="179.7" r="3.8"/><circle cx="1649.6" cy="189.5" r="3.8"/><circle cx="1656.1" cy="201.7" r="3.8"/><circle cx="1662" cy="214.7" r="3.8"/></g><g fill="#0000ff"><path d="M1459.6 252.26H1468.8L1464.2 244.26Z"/><path d="M1466.3 238.86H1475.5L1470.9 230.86Z"/><path d="M1473.2 226.26H1482.4L1477.8 218.26Z"/><path d="M1479.1 206.96H1488.3L1483.7 198.96Z"/><path d="M1485.8 190.86H1495L1490.4 182.86Z"/><path d="M1492.5 179.36H1501.7L1497.1 171.36Z"/><path d="M1498.7 167.56H1507.9L1503.3 159.56Z"/><path d="M1505.4 150.66H1514.6L1510 142.66Z"/><path d="M1512.1 140.46H1521.3L1516.7 132.46Z"/><path d="M1522.4 118.76H1531.6L1527 110.76Z"/><path d="M1531.2 110.56H1540.4L1535.8 102.56Z"/><path d="M1537.7 104.46H1546.9L1542.3 96.46Z"/><path d="M1544.6 99.66H1553.8L1549.2 91.66Z"/><path d="M1550.9 96.56H1560.1L1555.5 88.56Z"/><path d="M1557.4 94.56H1566.6L1562 86.56Z"/><path d="M1563.7 96.76H1572.9L1568.3 88.76Z"/><path d="M1570.2 98.16H1579.4L1574.8 90.16Z"/><path d="M1576.7 100.06H1585.9L1581.3 92.06Z"/><path d="M1583 106.96H1592.2L1587.6 98.96Z"/><path d="M1589.4 109.96H1598.6L1594 101.96Z"/><path d="M1596.2 121.16H1605.4L1600.8 113.16Z"/><path d="M1602.7 128.76H1611.9L1607.3 120.76Z"/><path d="M1608.2 135.66H1617.4L1612.8 127.66Z"/><path d="M1613.8 143.96H1623L1618.4 135.96Z"/><path d="M1620.4 158.46H1629.6L1625 150.46Z"/><path d="M1626.5 164.36H1635.7L1631.1 156.36Z"/><path d="M1631.8 178.66H1641L1636.4 170.66Z"/><path d="M1638.3 184.66H1647.5L1642.9 176.66Z"/><path d="M1645 198.76H1654.2L1649.6 190.76Z"/><path d="M1651.9 207.06H1661.1L1656.5 199.06Z"/></g><g fill="#008000"><path d="M1459.6 272.04H1468.8L1464.2 280.04Z"/><path d="M1466.3 249.44H1475.5L1470.9 257.44Z"/><path d="M1472.8 233.14H1482L1477.4 241.14Z"/><path d="M1479.1 217.94H1488.3L1483.7 225.94Z"/><path d="M1485.6 216.94H1494.8L1490.2 224.94Z"/><path d="M1492.5 194.34H1501.7L1497.1 202.34Z"/><path d="M1499.3 186.14H1508.5L1503.9 194.14Z"/><path d="M1504.3 169.14H1513.5L1508.9 177.14Z"/><path d="M1511.1 162.64H1520.3L1515.7 170.64Z"/><path d="M1515.1 149.44H1524.3L1519.7 157.44Z"/><path d="M1522.4 137.04H1531.6L1527 145.04Z"/><path d="M1531.8 136.04H1541L1536.4 144.04Z"/><path d="M1537.7 118.54H1546.9L1542.3 126.54Z"/><path d="M1544 118.54H1553.2L1548.6 126.54Z"/><path d="M1550.5 113.04H1559.7L1555.1 121.04Z"/><path d="M1557 110.14H1566.2L1561.6 118.14Z"/><path d="M1563.3 106.14H1572.5L1567.9 114.14Z"/><path d="M1570.2 112.04H1579.4L1574.8 120.04Z"/><path d="M1576.3 100.84H1585.5L1580.9 108.84Z"/><path d="M1583 109.74H1592.2L1587.6 117.74Z"/><path d="M1589.4 125.84H1598.6L1594 133.84Z"/><path d="M1596.2 128.94H1605.4L1600.8 136.94Z"/><path d="M1602.7 134.84H1611.9L1607.3 142.84Z"/><path d="M1608.7 148.84H1617.9L1613.3 156.84Z"/><path d="M1614 135.74H1623.2L1618.6 143.74Z"/><path d="M1620.4 158.24H1629.6L1625 166.24Z"/><path d="M1626.5 164.14H1635.7L1631.1 172.14Z"/><path d="M1632.8 171.94H1642L1637.4 179.94Z"/><path d="M1639.1 171.94H1648.3L1643.7 179.94Z"/><path d="M1644.9 200.74H1654.1L1649.5 208.74Z"/><path d="M1651.4 207.04H1660.6L1656 215.04Z"/><path d="M1657.8 210.64H1667L1662.4 218.64Z"/><path d="M1663.8 217.64H1673L1668.4 225.64Z"/><path d="M1669.8 232.24H1679L1674.4 240.24Z"/><path d="M1676 244.04H1685.2L1680.6 252.04Z"/><path d="M1682.3 248.34H1691.5L1686.9 256.34Z"/><path d="M1688.6 264.34H1697.8L1693.2 272.34Z"/><path d="M1694.9 272.84H1704.1L1699.5 280.84Z"/><path d="M1700.8 275.94H1710L1705.4 283.94Z"/><path d="M1707.3 285.14H1716.5L1711.9 293.14Z"/><path d="M1719 304.64H1728.2L1723.6 312.64Z"/><path d="M1725.2 313.14H1734.4L1729.8 321.14Z"/><path d="M1732 309.64H1741.2L1736.6 317.64Z"/><path d="M1738.6 311.24H1747.8L1743.2 319.24Z"/><path d="M1744.9 329.74H1754.1L1749.5 337.74Z"/><path d="M1751.5 332.34H1760.7L1756.1 340.34Z"/><path d="M1757.9 341.24H1767.1L1762.5 349.24Z"/><path d="M1764.2 338.84H1773.4L1768.8 346.84Z"/><path d="M1769.5 344.94H1778.7L1774.1 352.94Z"/></g></g><rect x="1439" y="20.5" width="336.5" height="330" fill="none" stroke="#000" stroke-width="2.4"/><text font-size="29.5" text-anchor="end" transform="translate(1427.9 316.9) scale(1 1.0)" >0.9</text><text font-size="29.5" text-anchor="end" transform="translate(1427.9 229.9) scale(1 1.0)" >1.0</text><text font-size="29.5" text-anchor="end" transform="translate(1427.9 142.9) scale(1 1.0)" >1.1</text><text font-size="29.5" text-anchor="end" transform="translate(1427.9 55.9) scale(1 1.0)" >1.2</text><text font-size="29.5" text-anchor="middle" transform="translate(1464.91 384.8) scale(1 1.0)" >2</text><text font-size="29.5" text-anchor="middle" transform="translate(1516.73 384.8) scale(1 1.0)" >4</text><text font-size="29.5" text-anchor="middle" transform="translate(1568.55 384.8) scale(1 1.0)" >6</text><text font-size="29.5" text-anchor="middle" transform="translate(1620.37 384.8) scale(1 1.0)" >8</text><text font-size="29.5" text-anchor="middle" transform="translate(1672.19 384.8) scale(1 1.0)" >10</text><text font-size="29.5" text-anchor="middle" transform="translate(1724.01 384.8) scale(1 1.0)" >12</text><text font-size="29.5" text-anchor="middle" transform="translate(1775.83 384.8) scale(1 1.0)" >14</text><text font-size="29.5" text-anchor="middle" transform="translate(1608.8 428.3) scale(1 1.0)" ><tspan font-style="italic">T</tspan><tspan dx="-2"> (K)</tspan></text><text font-size="29.5" text-anchor="middle" transform="translate(1355.8 186) rotate(-90) scale(1 1.0)" ><tspan font-family="DejaVu Serif, Liberation Serif, serif" font-size="28.5" stroke-width="0" textLength="15.6" lengthAdjust="spacingAndGlyphs">χ</tspan>′ (10<tspan font-size="19.8" dy="-12.8">–3</tspan><tspan dy="12.8" font-size="1">&#8203;</tspan> emu. g<tspan font-size="19.8" dy="-12.8">–1</tspan><tspan dy="12.8" font-size="1">&#8203;</tspan>)</text><rect x="1521.7" y="196.2" width="7" height="7" fill="#000"/><text font-size="24" text-anchor="start" transform="translate(1540.5 208.5) scale(1 1.0)" >0.1 Hz</text><circle cx="1525.2" cy="233.7" r="3.8" fill="#ff0000"/><text font-size="24" text-anchor="start" transform="translate(1541.5 243) scale(1 1.0)" >1 Hz</text><g fill="#0000ff"><path d="M1520.6 271.66H1529.8L1525.2 263.66Z"/></g><text font-size="24" text-anchor="start" transform="translate(1541.5 277.4) scale(1 1.0)" >10 Hz</text><g fill="#008000"><path d="M1520.6 299.94H1529.8L1525.2 307.94Z"/></g><text font-size="24" text-anchor="start" transform="translate(1541.5 311.8) scale(1 1.0)" >100 Hz</text></g><g id="panel-e"><rect x="1439" y="490.5" width="336.5" height="330" fill="none" stroke="#000" stroke-width="2.4"/><path d="M1495.15 820.5V800.5M1551.22 820.5V800.5M1607.3 820.5V800.5M1663.38 820.5V800.5M1719.45 820.5V800.5" stroke="#000" stroke-width="2.4" fill="none"/><path d="M1467.11 820.5V810M1523.19 820.5V810M1579.26 820.5V810M1635.34 820.5V810M1691.41 820.5V810M1747.49 820.5V810" stroke="#000" stroke-width="2.4" fill="none"/><path d="M1439 796.98H1459M1439 749.82H1459M1439 702.66H1459M1439 655.5H1459M1439 608.34H1459M1439 561.18H1459M1439 514.02H1459" stroke="#000" stroke-width="2.4" fill="none"/><path d="M1439 773.4H1449.5M1439 726.24H1449.5M1439 679.08H1449.5M1439 631.92H1449.5M1439 584.76H1449.5M1439 537.6H1449.5" stroke="#000" stroke-width="2.4" fill="none"/><polyline points="1461.2,802.2 1463.2,800.93 1465.2,799.64 1467.2,798.34 1469.2,797.03 1471.2,795.71 1473.2,794.38 1475.2,793.03 1477.2,791.67 1479.2,790.31 1481.2,788.93 1483.2,787.54 1485.2,786.14 1487.2,784.73 1489.2,783.3 1491.2,781.87 1493.2,780.43 1495.2,778.98 1497.2,777.52 1499.2,776.03 1501.2,774.54 1503.2,773.02 1505.2,771.49 1507.2,769.95 1509.2,768.4 1511.2,766.84 1513.2,765.27 1515.2,763.69 1517.2,762.1 1519.2,760.5 1521.2,758.91 1523.2,757.3 1525.2,755.7 1527.2,754.08 1529.2,752.46 1531.2,750.83 1533.2,749.19 1535.2,747.54 1537.2,745.88 1539.2,744.21 1541.2,742.54 1543.2,740.85 1545.2,739.15 1547.2,737.44 1549.2,735.72 1551.2,733.99 1553.2,732.28 1555.2,730.56 1557.2,728.84 1559.2,727.09 1561.2,725.31 1563.2,723.5 1565.2,721.63 1567.2,719.69 1569.2,717.69 1571.2,715.65 1573.2,713.54 1575.2,711.37 1577.2,709.12 1579.2,706.78 1581.2,704.34 1583.2,701.78 1585.2,699.11 1587.2,696.3 1589.2,693.32 1591.2,690.14 1593.2,686.7 1595.2,682.9 1597.2,678.61 1599.2,673.97 1601.2,669.16 1603.2,664.03 1605.2,658.61 1607.2,653.17 1609.2,647.65 1611.2,642.15 1613.2,637.31 1615.2,633.11 1617.2,629.29 1619.2,625.74 1621.2,622.38 1623.2,619.18 1625.2,616.13 1627.2,613.23 1629.2,610.46 1631.2,607.83 1633.2,605.34 1635.2,602.97 1637.2,600.69 1639.2,598.48 1641.2,596.31 1643.2,594.17 1645.2,592.08 1647.2,590.03 1649.2,588.02 1651.2,586.06 1653.2,584.13 1655.2,582.24 1657.2,580.4 1659.2,578.59 1661.2,576.82 1663.2,575.08 1665.2,573.37 1667.2,571.68 1669.2,570.01 1671.2,568.35 1673.2,566.7 1675.2,565.06 1677.2,563.44 1679.2,561.83 1681.2,560.24 1683.2,558.66 1685.2,557.09 1687.2,555.53 1689.2,553.98 1691.2,552.44 1693.2,550.9 1695.2,549.37 1697.2,547.83 1699.2,546.31 1701.2,544.79 1703.2,543.27 1705.2,541.76 1707.2,540.25 1709.2,538.76 1711.2,537.27 1713.2,535.78 1715.2,534.31 1717.2,532.84 1719.2,531.38 1721.2,529.93 1723.2,528.5 1725.2,527.08 1727.2,525.69 1729.2,524.3 1731.2,522.92 1733.2,521.54 1735.2,520.16 1737.2,518.76 1739.2,517.34 1741.2,515.91 1743.2,514.46 1745.2,513 1747.2,511.52 1749.2,510.04 1751.2,508.55 1753,507.2" fill="none" stroke="#0c3b0c" stroke-width="4.2" stroke-linejoin="round" stroke-linecap="round"/><text font-size="29.5" text-anchor="end" transform="translate(1425.3 806.58) scale(1 1.0)" >–<tspan dx="1.8">0.3</tspan></text><text font-size="29.5" text-anchor="end" transform="translate(1425.3 759.42) scale(1 1.0)" >–<tspan dx="1.8">0.2</tspan></text><text font-size="29.5" text-anchor="end" transform="translate(1425.3 712.26) scale(1 1.0)" >–<tspan dx="1.8">0.1</tspan></text><text font-size="29.5" text-anchor="end" transform="translate(1425.3 665.1) scale(1 1.0)" >0.0</text><text font-size="29.5" text-anchor="end" transform="translate(1425.3 617.94) scale(1 1.0)" >0.1</text><text font-size="29.5" text-anchor="end" transform="translate(1425.3 570.78) scale(1 1.0)" >0.2</text><text font-size="29.5" text-anchor="end" transform="translate(1425.3 523.62) scale(1 1.0)" >0.3</text><text font-size="29.5" text-anchor="middle" transform="translate(1433.5 859.1) scale(1 1.0)" >–15</text><text font-size="29.5" text-anchor="middle" transform="translate(1491.6 859.1) scale(1 1.0)" >–10</text><text font-size="29.5" text-anchor="middle" transform="translate(1548.3 859.1) scale(1 1.0)" >–5</text><text font-size="29.5" text-anchor="middle" transform="translate(1605.8 859.1) scale(1 1.0)" >0</text><text font-size="29.5" text-anchor="middle" transform="translate(1662.8 859.1) scale(1 1.0)" >5</text><text font-size="29.5" text-anchor="middle" transform="translate(1720.3 859.1) scale(1 1.0)" >10</text><text font-size="29.5" text-anchor="middle" transform="translate(1777.2 859.1) scale(1 1.0)" >15</text><text font-size="29.5" text-anchor="middle" transform="translate(1606.6 904.8) scale(1 1.0)" ><tspan font-family="Liberation Serif, serif" font-size="30.5" textLength="17.5" lengthAdjust="spacingAndGlyphs">μ</tspan><tspan font-size="20.6" dy="9.5" dx="0">0</tspan><tspan dy="-9.5" font-size="1">&#8203;</tspan><tspan dx="1.6" font-style="italic">H</tspan><tspan dx="-1"> (T)</tspan></text><text font-size="29.5" text-anchor="middle" transform="translate(1347.2 653.9) rotate(-90) scale(1 1.0)"  letter-spacing="-0.25"><tspan font-style="italic">M</tspan> (<tspan font-family="Liberation Serif, serif" font-size="30.5" textLength="17.5" lengthAdjust="spacingAndGlyphs">μ</tspan><tspan font-size="20.6" dy="9.8" dx="0">B</tspan><tspan dy="-9.8" font-size="1">&#8203;</tspan> per Mn)</text><text font-size="29.5" text-anchor="start" fill="#0c3b0c" style="stroke:#0c3b0c" transform="translate(1685 770) scale(1 1.0)" >2 K</text></g>
</svg>
</body></html>
